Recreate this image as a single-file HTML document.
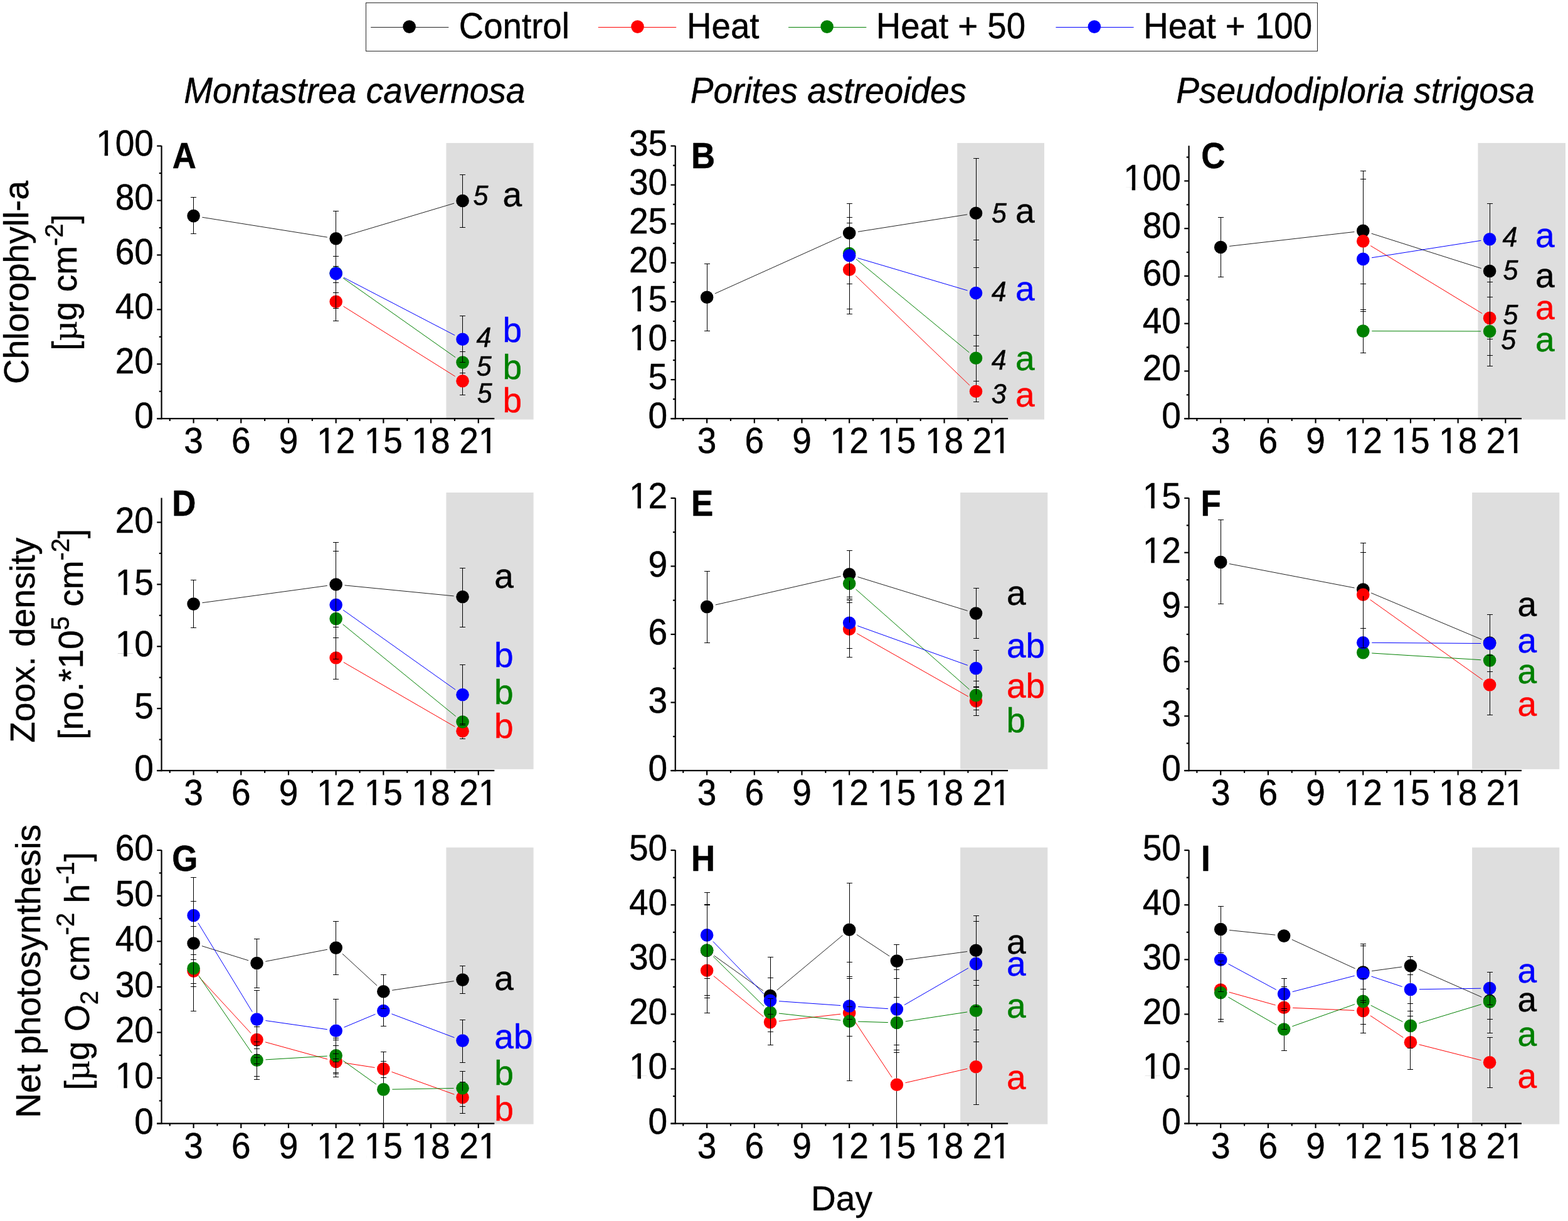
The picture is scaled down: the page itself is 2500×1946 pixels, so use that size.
<!DOCTYPE html>
<html lang="en"><head><meta charset="utf-8"><title>Coral physiology under heat and nutrient treatments</title>
<style>html,body{margin:0;padding:0;background:#fff;}body{width:2500px;height:1946px;overflow:hidden;}svg{display:block;font-family:"Liberation Sans", Arial, Helvetica, sans-serif;}text{white-space:pre;stroke-width:0.45px;stroke-linejoin:round;}</style>
</head><body>
<svg width="2500" height="1946" viewBox="0 0 2500 1946">
<rect x="0" y="0" width="2500" height="1946" fill="#fff"/>
<g id="shading">
<rect x="711.4" y="227.9" width="139.2" height="440.7" fill="#dedede"/>
<rect x="1526.2" y="227.9" width="138.8" height="440.7" fill="#dedede"/>
<rect x="2356.4" y="227.9" width="139.6" height="440.7" fill="#dedede"/>
<rect x="711.4" y="785" width="139.2" height="440.9" fill="#dedede"/>
<rect x="1531.1" y="785" width="139.2" height="440.9" fill="#dedede"/>
<rect x="2347.1" y="785" width="139.2" height="440.9" fill="#dedede"/>
<rect x="711.4" y="1350.7" width="139.2" height="441" fill="#dedede"/>
<rect x="1531.1" y="1350.7" width="139.2" height="441" fill="#dedede"/>
<rect x="2347.1" y="1350.7" width="139.2" height="441" fill="#dedede"/>
</g>
<g id="legend">
<rect x="583.5" y="4.5" width="1517" height="77" fill="#fff" stroke="#2b2b2b" stroke-width="1"/>
<line x1="591.2" y1="43.5" x2="715.3" y2="43.5" stroke="#222222" stroke-width="1"/>
<circle cx="652.6" cy="42.6" r="10.3" fill="#000000"/>
<text transform="translate(731.8 61.2) scale(0.993 1.034)" font-size="55" stroke="#000">Control</text>
<line x1="953.8" y1="43.5" x2="1078.2" y2="43.5" stroke="#ff0000" stroke-width="1"/>
<circle cx="1016.5" cy="42.6" r="10.3" fill="#ff0000"/>
<text transform="translate(1095.1 61.2) scale(0.993 1.034)" font-size="55" stroke="#000">Heat</text>
<line x1="1257.1" y1="43.5" x2="1381.3" y2="43.5" stroke="#008000" stroke-width="1"/>
<circle cx="1318.6" cy="42.6" r="10.3" fill="#008000"/>
<text transform="translate(1396.7 61.2) scale(0.993 1.034)" font-size="55" stroke="#000">Heat + 50</text>
<line x1="1683.4" y1="43.5" x2="1807.5" y2="43.5" stroke="#0000ff" stroke-width="1"/>
<circle cx="1744.8" cy="42.6" r="10.3" fill="#0000ff"/>
<text transform="translate(1823.3 61.2) scale(0.993 1.034)" font-size="55" stroke="#000">Heat + 100</text>
</g>
<g id="titles">
<text transform="translate(293.3 164.2) scale(1.0 1.03)" font-size="55" font-style="italic" stroke="#000">Montastrea cavernosa</text>
<text transform="translate(1100.8 164.2) scale(1.0 1.03)" font-size="55" font-style="italic" stroke="#000">Porites astreoides</text>
<text transform="translate(1875.2 164.2) scale(1.0 1.03)" font-size="55" font-style="italic" stroke="#000">Pseudodiploria strigosa</text>
</g>
<g id="ylabels">
<text transform="translate(44.9 450) rotate(-90) scale(1 1)" font-size="55" text-anchor="middle" stroke="#000">Chlorophyll-a</text>
<text transform="translate(122.3 450) rotate(-90) scale(1 1)" font-size="55" text-anchor="middle" stroke="#000"><tspan dy="0">[</tspan><tspan dy="0" font-family="'Liberation Serif',serif" font-size="56.1">µ</tspan><tspan dy="0">g cm</tspan><tspan dy="-22.5" font-size="40">-2</tspan><tspan dy="22.5">]</tspan></text>
<text transform="translate(55.3 1020.2) rotate(-90) scale(1 1)" font-size="55" text-anchor="middle" stroke="#000">Zoox. density</text>
<text transform="translate(132.4 1010.7) rotate(-90) scale(1 1)" font-size="55" text-anchor="middle" stroke="#000"><tspan dy="0">[no.*10</tspan><tspan dy="-22.5" font-size="40">5</tspan><tspan dy="22.5"> cm</tspan><tspan dy="-22.5" font-size="40">-2</tspan><tspan dy="22.5">]</tspan></text>
<text transform="translate(64.3 1547.8) rotate(-90) scale(1 1)" font-size="55" text-anchor="middle" stroke="#000">Net photosynthesis</text>
<text transform="translate(142 1547.8) rotate(-90) scale(1 1)" font-size="55" text-anchor="middle" stroke="#000"><tspan dy="0">[</tspan><tspan dy="0" font-family="'Liberation Serif',serif" font-size="56.1">µ</tspan><tspan dy="0">g O</tspan><tspan dy="13.5" font-size="40">2</tspan><tspan dy="-13.5"> cm</tspan><tspan dy="-24" font-size="40">-2</tspan><tspan dy="24"> h</tspan><tspan dy="-24" font-size="40">-1</tspan><tspan dy="24">]</tspan></text>
</g>
<text transform="translate(1342 1929) scale(1.0 1.01)" font-size="55" text-anchor="middle" stroke="#000">Day</text>
<g id="panel-A">
<line x1="322.43" y1="346.3" x2="521.84" y2="378.1" stroke="#222222" stroke-width="1"/>
<line x1="549.08" y1="376.29" x2="724.1" y2="324.01" stroke="#222222" stroke-width="1"/>
<line x1="308.5" y1="314.8" x2="308.5" y2="344.1" stroke="#000000" stroke-width="1"/>
<line x1="304" y1="314.5" x2="313" y2="314.5" stroke="#000000" stroke-width="1"/>
<line x1="308.5" y1="344.1" x2="308.5" y2="372.7" stroke="#000000" stroke-width="1"/>
<line x1="304" y1="372.5" x2="313" y2="372.5" stroke="#000000" stroke-width="1"/>
<line x1="535.5" y1="336" x2="535.5" y2="380.3" stroke="#000000" stroke-width="1"/>
<line x1="531" y1="336.5" x2="540" y2="336.5" stroke="#000000" stroke-width="1"/>
<line x1="535.5" y1="380.3" x2="535.5" y2="424.6" stroke="#000000" stroke-width="1"/>
<line x1="531" y1="424.5" x2="540" y2="424.5" stroke="#000000" stroke-width="1"/>
<line x1="737.5" y1="278.1" x2="737.5" y2="320" stroke="#000000" stroke-width="1"/>
<line x1="733" y1="278.5" x2="742" y2="278.5" stroke="#000000" stroke-width="1"/>
<line x1="737.5" y1="320" x2="737.5" y2="362" stroke="#000000" stroke-width="1"/>
<line x1="733" y1="362.5" x2="742" y2="362.5" stroke="#000000" stroke-width="1"/>
<circle cx="308.6" cy="344.1" r="10.3" fill="#000000"/>
<circle cx="535.67" cy="380.3" r="10.3" fill="#000000"/>
<circle cx="737.51" cy="320" r="10.3" fill="#000000"/>
<line x1="547.53" y1="488.23" x2="725.65" y2="599.87" stroke="#ff0000" stroke-width="1"/>
<line x1="535.5" y1="450.9" x2="535.5" y2="480.8" stroke="#000000" stroke-width="1"/>
<line x1="531" y1="450.5" x2="540" y2="450.5" stroke="#000000" stroke-width="1"/>
<line x1="535.5" y1="480.8" x2="535.5" y2="511.2" stroke="#000000" stroke-width="1"/>
<line x1="531" y1="511.5" x2="540" y2="511.5" stroke="#000000" stroke-width="1"/>
<line x1="737.5" y1="585.3" x2="737.5" y2="607.3" stroke="#000000" stroke-width="1"/>
<line x1="733" y1="585.5" x2="742" y2="585.5" stroke="#000000" stroke-width="1"/>
<line x1="737.5" y1="607.3" x2="737.5" y2="629.3" stroke="#000000" stroke-width="1"/>
<line x1="733" y1="629.5" x2="742" y2="629.5" stroke="#000000" stroke-width="1"/>
<circle cx="535.67" cy="480.8" r="10.3" fill="#ff0000"/>
<circle cx="737.51" cy="607.3" r="10.3" fill="#ff0000"/>
<line x1="547.11" y1="443.27" x2="726.07" y2="569.53" stroke="#008000" stroke-width="1"/>
<line x1="535.5" y1="378.9" x2="535.5" y2="435.2" stroke="#000000" stroke-width="1"/>
<line x1="531" y1="378.5" x2="540" y2="378.5" stroke="#000000" stroke-width="1"/>
<line x1="535.5" y1="435.2" x2="535.5" y2="491.5" stroke="#000000" stroke-width="1"/>
<line x1="531" y1="491.5" x2="540" y2="491.5" stroke="#000000" stroke-width="1"/>
<line x1="737.5" y1="560.8" x2="737.5" y2="577.6" stroke="#000000" stroke-width="1"/>
<line x1="733" y1="560.5" x2="742" y2="560.5" stroke="#000000" stroke-width="1"/>
<line x1="737.5" y1="577.6" x2="737.5" y2="594.4" stroke="#000000" stroke-width="1"/>
<line x1="733" y1="594.5" x2="742" y2="594.5" stroke="#000000" stroke-width="1"/>
<circle cx="535.67" cy="435.2" r="10.3" fill="#008000"/>
<circle cx="737.51" cy="577.6" r="10.3" fill="#008000"/>
<line x1="548.09" y1="442.36" x2="725.09" y2="534.34" stroke="#0000ff" stroke-width="1"/>
<line x1="535.5" y1="408" x2="535.5" y2="435.9" stroke="#000000" stroke-width="1"/>
<line x1="531" y1="408.5" x2="540" y2="408.5" stroke="#000000" stroke-width="1"/>
<line x1="535.5" y1="435.9" x2="535.5" y2="466" stroke="#000000" stroke-width="1"/>
<line x1="531" y1="466.5" x2="540" y2="466.5" stroke="#000000" stroke-width="1"/>
<line x1="737.5" y1="503.8" x2="737.5" y2="540.8" stroke="#000000" stroke-width="1"/>
<line x1="733" y1="503.5" x2="742" y2="503.5" stroke="#000000" stroke-width="1"/>
<line x1="737.5" y1="540.8" x2="737.5" y2="577.8" stroke="#000000" stroke-width="1"/>
<line x1="733" y1="577.5" x2="742" y2="577.5" stroke="#000000" stroke-width="1"/>
<circle cx="535.67" cy="435.9" r="10.3" fill="#0000ff"/>
<circle cx="737.51" cy="540.8" r="10.3" fill="#0000ff"/>
<line x1="257.54" y1="232.3" x2="257.54" y2="668.3" stroke="#000" stroke-width="2.2"/>
<line x1="250.24" y1="667.2" x2="788.3" y2="667.2" stroke="#000" stroke-width="2.2"/>
<line x1="250.24" y1="667.2" x2="257.54" y2="667.2" stroke="#000" stroke-width="2.2"/>
<text transform="translate(244.94 682.1) scale(1.0 1.04)" font-size="55" text-anchor="end" stroke="#000">0</text>
<line x1="253.74" y1="623.74" x2="257.54" y2="623.74" stroke="#000" stroke-width="2.2"/>
<line x1="250.24" y1="580.28" x2="257.54" y2="580.28" stroke="#000" stroke-width="2.2"/>
<text transform="translate(244.94 595.18) scale(1.0 1.04)" font-size="55" text-anchor="end" stroke="#000">20</text>
<line x1="253.74" y1="536.82" x2="257.54" y2="536.82" stroke="#000" stroke-width="2.2"/>
<line x1="250.24" y1="493.36" x2="257.54" y2="493.36" stroke="#000" stroke-width="2.2"/>
<text transform="translate(244.94 508.26) scale(1.0 1.04)" font-size="55" text-anchor="end" stroke="#000">40</text>
<line x1="253.74" y1="449.9" x2="257.54" y2="449.9" stroke="#000" stroke-width="2.2"/>
<line x1="250.24" y1="406.44" x2="257.54" y2="406.44" stroke="#000" stroke-width="2.2"/>
<text transform="translate(244.94 421.34) scale(1.0 1.04)" font-size="55" text-anchor="end" stroke="#000">60</text>
<line x1="253.74" y1="362.98" x2="257.54" y2="362.98" stroke="#000" stroke-width="2.2"/>
<line x1="250.24" y1="319.52" x2="257.54" y2="319.52" stroke="#000" stroke-width="2.2"/>
<text transform="translate(244.94 334.42) scale(1.0 1.04)" font-size="55" text-anchor="end" stroke="#000">80</text>
<line x1="253.74" y1="276.06" x2="257.54" y2="276.06" stroke="#000" stroke-width="2.2"/>
<line x1="250.24" y1="232.6" x2="257.54" y2="232.6" stroke="#000" stroke-width="2.2"/>
<text transform="translate(244.94 247.5) scale(1.0 1.04)" font-size="55" text-anchor="end" stroke="#000">100</text>
<rect x="156.47" y="242.28" width="10.2" height="6.72" fill="#fff"/>
<rect x="172.13" y="242.28" width="9.76" height="6.72" fill="#fff"/>
<line x1="308.6" y1="667.2" x2="308.6" y2="674.5" stroke="#000" stroke-width="2.2"/>
<text transform="translate(308.6 722.2) scale(1.0 1.04)" font-size="55" text-anchor="middle" stroke="#000">3</text>
<line x1="384.29" y1="667.2" x2="384.29" y2="674.5" stroke="#000" stroke-width="2.2"/>
<text transform="translate(384.29 722.2) scale(1.0 1.04)" font-size="55" text-anchor="middle" stroke="#000">6</text>
<line x1="459.98" y1="667.2" x2="459.98" y2="674.5" stroke="#000" stroke-width="2.2"/>
<text transform="translate(459.98 722.2) scale(1.0 1.04)" font-size="55" text-anchor="middle" stroke="#000">9</text>
<line x1="535.67" y1="667.2" x2="535.67" y2="674.5" stroke="#000" stroke-width="2.2"/>
<text transform="translate(535.67 722.2) scale(1.0 1.04)" font-size="55" text-anchor="middle" stroke="#000">12</text>
<rect x="508.38" y="716.98" width="10.2" height="6.72" fill="#fff"/>
<rect x="524.03" y="716.98" width="9.76" height="6.72" fill="#fff"/>
<line x1="611.36" y1="667.2" x2="611.36" y2="674.5" stroke="#000" stroke-width="2.2"/>
<text transform="translate(611.36 722.2) scale(1.0 1.04)" font-size="55" text-anchor="middle" stroke="#000">15</text>
<rect x="584.07" y="716.98" width="10.2" height="6.72" fill="#fff"/>
<rect x="599.72" y="716.98" width="9.76" height="6.72" fill="#fff"/>
<line x1="687.05" y1="667.2" x2="687.05" y2="674.5" stroke="#000" stroke-width="2.2"/>
<text transform="translate(687.05 722.2) scale(1.0 1.04)" font-size="55" text-anchor="middle" stroke="#000">18</text>
<rect x="659.76" y="716.98" width="10.2" height="6.72" fill="#fff"/>
<rect x="675.41" y="716.98" width="9.76" height="6.72" fill="#fff"/>
<line x1="762.74" y1="667.2" x2="762.74" y2="674.5" stroke="#000" stroke-width="2.2"/>
<text transform="translate(762.74 722.2) scale(1.0 1.04)" font-size="55" text-anchor="middle" stroke="#000">21</text>
<rect x="766.04" y="716.98" width="10.2" height="6.72" fill="#fff"/>
<rect x="781.69" y="716.98" width="9.76" height="6.72" fill="#fff"/>
<line x1="270.75" y1="667.2" x2="270.75" y2="671" stroke="#000" stroke-width="2.2"/>
<line x1="346.45" y1="667.2" x2="346.45" y2="671" stroke="#000" stroke-width="2.2"/>
<line x1="422.13" y1="667.2" x2="422.13" y2="671" stroke="#000" stroke-width="2.2"/>
<line x1="497.83" y1="667.2" x2="497.83" y2="671" stroke="#000" stroke-width="2.2"/>
<line x1="573.52" y1="667.2" x2="573.52" y2="671" stroke="#000" stroke-width="2.2"/>
<line x1="649.21" y1="667.2" x2="649.21" y2="671" stroke="#000" stroke-width="2.2"/>
<line x1="724.89" y1="667.2" x2="724.89" y2="671" stroke="#000" stroke-width="2.2"/>
<text transform="translate(274.8 268.35) scale(0.944 1.03)" font-size="56" font-weight="bold" stroke="#000">A</text>
<text transform="translate(754.5 327.2) scale(1.0 1.03)" font-size="43" font-style="italic" stroke="#000">5</text>
<text x="801.5" y="328.7" font-size="55" stroke="#000">a</text>
<text transform="translate(759.5 553.1) scale(1.0 1.03)" font-size="43" font-style="italic" stroke="#000">4</text>
<text x="801.5" y="545.4" font-size="55" fill="#0000ff" stroke="#0000ff">b</text>
<text transform="translate(759.8 598.5) scale(1.0 1.03)" font-size="43" font-style="italic" stroke="#000">5</text>
<text x="801.5" y="603.6" font-size="55" fill="#008000" stroke="#008000">b</text>
<text transform="translate(760.8 642.1) scale(1.0 1.03)" font-size="43" font-style="italic" stroke="#000">5</text>
<text x="801.5" y="657.1" font-size="55" fill="#ff0000" stroke="#ff0000">b</text>
</g>
<g id="panel-B">
<line x1="1139.87" y1="467.95" x2="1341.4" y2="377.25" stroke="#222222" stroke-width="1"/>
<line x1="1368" y1="369.32" x2="1542.18" y2="341.88" stroke="#222222" stroke-width="1"/>
<line x1="1127.5" y1="420.3" x2="1127.5" y2="473.7" stroke="#000000" stroke-width="1"/>
<line x1="1123" y1="420.5" x2="1132" y2="420.5" stroke="#000000" stroke-width="1"/>
<line x1="1127.5" y1="473.7" x2="1127.5" y2="527.1" stroke="#000000" stroke-width="1"/>
<line x1="1123" y1="527.5" x2="1132" y2="527.5" stroke="#000000" stroke-width="1"/>
<line x1="1354.5" y1="346.4" x2="1354.5" y2="371.5" stroke="#000000" stroke-width="1"/>
<line x1="1350" y1="346.5" x2="1359" y2="346.5" stroke="#000000" stroke-width="1"/>
<line x1="1354.5" y1="371.5" x2="1354.5" y2="396.6" stroke="#000000" stroke-width="1"/>
<line x1="1350" y1="396.5" x2="1359" y2="396.5" stroke="#000000" stroke-width="1"/>
<line x1="1556.5" y1="252.7" x2="1556.5" y2="339.7" stroke="#000000" stroke-width="1"/>
<line x1="1552" y1="252.5" x2="1561" y2="252.5" stroke="#000000" stroke-width="1"/>
<line x1="1556.5" y1="339.7" x2="1556.5" y2="426.1" stroke="#000000" stroke-width="1"/>
<line x1="1552" y1="426.5" x2="1561" y2="426.5" stroke="#000000" stroke-width="1"/>
<circle cx="1127.1" cy="473.7" r="10.3" fill="#000000"/>
<circle cx="1354.17" cy="371.5" r="10.3" fill="#000000"/>
<circle cx="1556.01" cy="339.7" r="10.3" fill="#000000"/>
<line x1="1364.26" y1="439.5" x2="1545.92" y2="614.1" stroke="#ff0000" stroke-width="1"/>
<line x1="1354.5" y1="355.2" x2="1354.5" y2="429.8" stroke="#000000" stroke-width="1"/>
<line x1="1350" y1="355.5" x2="1359" y2="355.5" stroke="#000000" stroke-width="1"/>
<line x1="1354.5" y1="429.8" x2="1354.5" y2="500.7" stroke="#000000" stroke-width="1"/>
<line x1="1350" y1="500.5" x2="1359" y2="500.5" stroke="#000000" stroke-width="1"/>
<line x1="1556.5" y1="607.7" x2="1556.5" y2="623.8" stroke="#000000" stroke-width="1"/>
<line x1="1552" y1="607.5" x2="1561" y2="607.5" stroke="#000000" stroke-width="1"/>
<line x1="1556.5" y1="623.8" x2="1556.5" y2="640.1" stroke="#000000" stroke-width="1"/>
<line x1="1552" y1="640.5" x2="1561" y2="640.5" stroke="#000000" stroke-width="1"/>
<circle cx="1354.17" cy="429.8" r="10.3" fill="#ff0000"/>
<circle cx="1556.01" cy="623.8" r="10.3" fill="#ff0000"/>
<line x1="1364.96" y1="412.92" x2="1545.22" y2="561.78" stroke="#008000" stroke-width="1"/>
<line x1="1354.5" y1="355.2" x2="1354.5" y2="404" stroke="#000000" stroke-width="1"/>
<line x1="1350" y1="355.5" x2="1359" y2="355.5" stroke="#000000" stroke-width="1"/>
<line x1="1354.5" y1="404" x2="1354.5" y2="452.1" stroke="#000000" stroke-width="1"/>
<line x1="1350" y1="452.5" x2="1359" y2="452.5" stroke="#000000" stroke-width="1"/>
<line x1="1556.5" y1="534.4" x2="1556.5" y2="570.7" stroke="#000000" stroke-width="1"/>
<line x1="1552" y1="534.5" x2="1561" y2="534.5" stroke="#000000" stroke-width="1"/>
<line x1="1556.5" y1="570.7" x2="1556.5" y2="607.7" stroke="#000000" stroke-width="1"/>
<line x1="1552" y1="607.5" x2="1561" y2="607.5" stroke="#000000" stroke-width="1"/>
<circle cx="1354.17" cy="404" r="10.3" fill="#008000"/>
<circle cx="1556.01" cy="570.7" r="10.3" fill="#008000"/>
<line x1="1367.6" y1="411.27" x2="1542.58" y2="463.03" stroke="#0000ff" stroke-width="1"/>
<line x1="1354.5" y1="324.5" x2="1354.5" y2="407.3" stroke="#000000" stroke-width="1"/>
<line x1="1350" y1="324.5" x2="1359" y2="324.5" stroke="#000000" stroke-width="1"/>
<line x1="1354.5" y1="407.3" x2="1354.5" y2="492.6" stroke="#000000" stroke-width="1"/>
<line x1="1350" y1="492.5" x2="1359" y2="492.5" stroke="#000000" stroke-width="1"/>
<line x1="1556.5" y1="382.5" x2="1556.5" y2="467" stroke="#000000" stroke-width="1"/>
<line x1="1552" y1="382.5" x2="1561" y2="382.5" stroke="#000000" stroke-width="1"/>
<line x1="1556.5" y1="467" x2="1556.5" y2="551.2" stroke="#000000" stroke-width="1"/>
<line x1="1552" y1="551.5" x2="1561" y2="551.5" stroke="#000000" stroke-width="1"/>
<circle cx="1354.17" cy="407.3" r="10.3" fill="#0000ff"/>
<circle cx="1556.01" cy="467" r="10.3" fill="#0000ff"/>
<line x1="1076.74" y1="232.3" x2="1076.74" y2="668.3" stroke="#000" stroke-width="2.2"/>
<line x1="1069.44" y1="667.2" x2="1607.1" y2="667.2" stroke="#000" stroke-width="2.2"/>
<line x1="1069.44" y1="667.2" x2="1076.74" y2="667.2" stroke="#000" stroke-width="2.2"/>
<text transform="translate(1064.14 682.1) scale(1.0 1.04)" font-size="55" text-anchor="end" stroke="#000">0</text>
<line x1="1072.94" y1="636.16" x2="1076.74" y2="636.16" stroke="#000" stroke-width="2.2"/>
<line x1="1069.44" y1="605.11" x2="1076.74" y2="605.11" stroke="#000" stroke-width="2.2"/>
<text transform="translate(1064.14 620.01) scale(1.0 1.04)" font-size="55" text-anchor="end" stroke="#000">5</text>
<line x1="1072.94" y1="574.07" x2="1076.74" y2="574.07" stroke="#000" stroke-width="2.2"/>
<line x1="1069.44" y1="543.03" x2="1076.74" y2="543.03" stroke="#000" stroke-width="2.2"/>
<text transform="translate(1064.14 557.93) scale(1.0 1.04)" font-size="55" text-anchor="end" stroke="#000">10</text>
<rect x="1006.26" y="552.71" width="10.2" height="6.72" fill="#fff"/>
<rect x="1021.92" y="552.71" width="9.76" height="6.72" fill="#fff"/>
<line x1="1072.94" y1="511.99" x2="1076.74" y2="511.99" stroke="#000" stroke-width="2.2"/>
<line x1="1069.44" y1="480.94" x2="1076.74" y2="480.94" stroke="#000" stroke-width="2.2"/>
<text transform="translate(1064.14 495.84) scale(1.0 1.04)" font-size="55" text-anchor="end" stroke="#000">15</text>
<rect x="1006.26" y="490.62" width="10.2" height="6.72" fill="#fff"/>
<rect x="1021.92" y="490.62" width="9.76" height="6.72" fill="#fff"/>
<line x1="1072.94" y1="449.9" x2="1076.74" y2="449.9" stroke="#000" stroke-width="2.2"/>
<line x1="1069.44" y1="418.86" x2="1076.74" y2="418.86" stroke="#000" stroke-width="2.2"/>
<text transform="translate(1064.14 433.76) scale(1.0 1.04)" font-size="55" text-anchor="end" stroke="#000">20</text>
<line x1="1072.94" y1="387.81" x2="1076.74" y2="387.81" stroke="#000" stroke-width="2.2"/>
<line x1="1069.44" y1="356.77" x2="1076.74" y2="356.77" stroke="#000" stroke-width="2.2"/>
<text transform="translate(1064.14 371.67) scale(1.0 1.04)" font-size="55" text-anchor="end" stroke="#000">25</text>
<line x1="1072.94" y1="325.73" x2="1076.74" y2="325.73" stroke="#000" stroke-width="2.2"/>
<line x1="1069.44" y1="294.69" x2="1076.74" y2="294.69" stroke="#000" stroke-width="2.2"/>
<text transform="translate(1064.14 309.59) scale(1.0 1.04)" font-size="55" text-anchor="end" stroke="#000">30</text>
<line x1="1072.94" y1="263.64" x2="1076.74" y2="263.64" stroke="#000" stroke-width="2.2"/>
<line x1="1069.44" y1="232.6" x2="1076.74" y2="232.6" stroke="#000" stroke-width="2.2"/>
<text transform="translate(1064.14 247.5) scale(1.0 1.04)" font-size="55" text-anchor="end" stroke="#000">35</text>
<line x1="1127.1" y1="667.2" x2="1127.1" y2="674.5" stroke="#000" stroke-width="2.2"/>
<text transform="translate(1127.1 722.2) scale(1.0 1.04)" font-size="55" text-anchor="middle" stroke="#000">3</text>
<line x1="1202.79" y1="667.2" x2="1202.79" y2="674.5" stroke="#000" stroke-width="2.2"/>
<text transform="translate(1202.79 722.2) scale(1.0 1.04)" font-size="55" text-anchor="middle" stroke="#000">6</text>
<line x1="1278.48" y1="667.2" x2="1278.48" y2="674.5" stroke="#000" stroke-width="2.2"/>
<text transform="translate(1278.48 722.2) scale(1.0 1.04)" font-size="55" text-anchor="middle" stroke="#000">9</text>
<line x1="1354.17" y1="667.2" x2="1354.17" y2="674.5" stroke="#000" stroke-width="2.2"/>
<text transform="translate(1354.17 722.2) scale(1.0 1.04)" font-size="55" text-anchor="middle" stroke="#000">12</text>
<rect x="1326.88" y="716.98" width="10.2" height="6.72" fill="#fff"/>
<rect x="1342.53" y="716.98" width="9.76" height="6.72" fill="#fff"/>
<line x1="1429.86" y1="667.2" x2="1429.86" y2="674.5" stroke="#000" stroke-width="2.2"/>
<text transform="translate(1429.86 722.2) scale(1.0 1.04)" font-size="55" text-anchor="middle" stroke="#000">15</text>
<rect x="1402.57" y="716.98" width="10.2" height="6.72" fill="#fff"/>
<rect x="1418.22" y="716.98" width="9.76" height="6.72" fill="#fff"/>
<line x1="1505.55" y1="667.2" x2="1505.55" y2="674.5" stroke="#000" stroke-width="2.2"/>
<text transform="translate(1505.55 722.2) scale(1.0 1.04)" font-size="55" text-anchor="middle" stroke="#000">18</text>
<rect x="1478.26" y="716.98" width="10.2" height="6.72" fill="#fff"/>
<rect x="1493.91" y="716.98" width="9.76" height="6.72" fill="#fff"/>
<line x1="1581.24" y1="667.2" x2="1581.24" y2="674.5" stroke="#000" stroke-width="2.2"/>
<text transform="translate(1581.24 722.2) scale(1.0 1.04)" font-size="55" text-anchor="middle" stroke="#000">21</text>
<rect x="1584.54" y="716.98" width="10.2" height="6.72" fill="#fff"/>
<rect x="1600.19" y="716.98" width="9.76" height="6.72" fill="#fff"/>
<line x1="1089.25" y1="667.2" x2="1089.25" y2="671" stroke="#000" stroke-width="2.2"/>
<line x1="1164.94" y1="667.2" x2="1164.94" y2="671" stroke="#000" stroke-width="2.2"/>
<line x1="1240.63" y1="667.2" x2="1240.63" y2="671" stroke="#000" stroke-width="2.2"/>
<line x1="1316.32" y1="667.2" x2="1316.32" y2="671" stroke="#000" stroke-width="2.2"/>
<line x1="1392.01" y1="667.2" x2="1392.01" y2="671" stroke="#000" stroke-width="2.2"/>
<line x1="1467.7" y1="667.2" x2="1467.7" y2="671" stroke="#000" stroke-width="2.2"/>
<line x1="1543.39" y1="667.2" x2="1543.39" y2="671" stroke="#000" stroke-width="2.2"/>
<text transform="translate(1101.9 268.35) scale(0.944 1.03)" font-size="56" font-weight="bold" stroke="#000">B</text>
<text transform="translate(1581 354.7) scale(1.0 1.03)" font-size="43" font-style="italic" stroke="#000">5</text>
<text x="1618.9" y="354.7" font-size="55" stroke="#000">a</text>
<text transform="translate(1580.7 480) scale(1.0 1.03)" font-size="43" font-style="italic" stroke="#000">4</text>
<text x="1618.9" y="479.4" font-size="55" fill="#0000ff" stroke="#0000ff">a</text>
<text transform="translate(1580.7 589) scale(1.0 1.03)" font-size="43" font-style="italic" stroke="#000">4</text>
<text x="1618.9" y="589.7" font-size="55" fill="#008000" stroke="#008000">a</text>
<text transform="translate(1580.7 642.5) scale(1.0 1.03)" font-size="43" font-style="italic" stroke="#000">3</text>
<text x="1618.9" y="647.6" font-size="55" fill="#ff0000" stroke="#ff0000">a</text>
</g>
<g id="panel-C">
<line x1="1960.11" y1="392.4" x2="2159.36" y2="369.5" stroke="#222222" stroke-width="1"/>
<line x1="2186.61" y1="372.14" x2="2361.77" y2="427.76" stroke="#222222" stroke-width="1"/>
<line x1="1946.5" y1="346.6" x2="1946.5" y2="394" stroke="#000000" stroke-width="1"/>
<line x1="1942" y1="346.5" x2="1951" y2="346.5" stroke="#000000" stroke-width="1"/>
<line x1="1946.5" y1="394" x2="1946.5" y2="441.4" stroke="#000000" stroke-width="1"/>
<line x1="1942" y1="441.5" x2="1951" y2="441.5" stroke="#000000" stroke-width="1"/>
<line x1="2173.5" y1="285.3" x2="2173.5" y2="367.9" stroke="#000000" stroke-width="1"/>
<line x1="2169" y1="285.5" x2="2178" y2="285.5" stroke="#000000" stroke-width="1"/>
<line x1="2173.5" y1="367.9" x2="2173.5" y2="452.1" stroke="#000000" stroke-width="1"/>
<line x1="2169" y1="452.5" x2="2178" y2="452.5" stroke="#000000" stroke-width="1"/>
<line x1="2375.5" y1="324.5" x2="2375.5" y2="432" stroke="#000000" stroke-width="1"/>
<line x1="2371" y1="324.5" x2="2380" y2="324.5" stroke="#000000" stroke-width="1"/>
<line x1="2375.5" y1="432" x2="2375.5" y2="540.8" stroke="#000000" stroke-width="1"/>
<line x1="2371" y1="540.5" x2="2380" y2="540.5" stroke="#000000" stroke-width="1"/>
<circle cx="1946.2" cy="394" r="10.3" fill="#000000"/>
<circle cx="2173.27" cy="367.9" r="10.3" fill="#000000"/>
<circle cx="2375.11" cy="432" r="10.3" fill="#000000"/>
<line x1="2185.24" y1="391.66" x2="2363.14" y2="499.64" stroke="#ff0000" stroke-width="1"/>
<line x1="2173.5" y1="272.8" x2="2173.5" y2="384.4" stroke="#000000" stroke-width="1"/>
<line x1="2169" y1="272.5" x2="2178" y2="272.5" stroke="#000000" stroke-width="1"/>
<line x1="2173.5" y1="384.4" x2="2173.5" y2="496.6" stroke="#000000" stroke-width="1"/>
<line x1="2169" y1="496.5" x2="2178" y2="496.5" stroke="#000000" stroke-width="1"/>
<line x1="2375.5" y1="449.6" x2="2375.5" y2="506.9" stroke="#000000" stroke-width="1"/>
<line x1="2371" y1="449.5" x2="2380" y2="449.5" stroke="#000000" stroke-width="1"/>
<line x1="2375.5" y1="506.9" x2="2375.5" y2="566.1" stroke="#000000" stroke-width="1"/>
<line x1="2371" y1="566.5" x2="2380" y2="566.5" stroke="#000000" stroke-width="1"/>
<circle cx="2173.27" cy="384.4" r="10.3" fill="#ff0000"/>
<circle cx="2375.11" cy="506.9" r="10.3" fill="#ff0000"/>
<line x1="2187.27" y1="527.63" x2="2361.11" y2="527.97" stroke="#008000" stroke-width="1"/>
<line x1="2173.5" y1="493.5" x2="2173.5" y2="527.6" stroke="#000000" stroke-width="1"/>
<line x1="2169" y1="493.5" x2="2178" y2="493.5" stroke="#000000" stroke-width="1"/>
<line x1="2173.5" y1="527.6" x2="2173.5" y2="562.8" stroke="#000000" stroke-width="1"/>
<line x1="2169" y1="562.5" x2="2178" y2="562.5" stroke="#000000" stroke-width="1"/>
<line x1="2375.5" y1="473.2" x2="2375.5" y2="528" stroke="#000000" stroke-width="1"/>
<line x1="2371" y1="473.5" x2="2380" y2="473.5" stroke="#000000" stroke-width="1"/>
<line x1="2375.5" y1="528" x2="2375.5" y2="583.8" stroke="#000000" stroke-width="1"/>
<line x1="2371" y1="583.5" x2="2380" y2="583.5" stroke="#000000" stroke-width="1"/>
<circle cx="2173.27" cy="527.6" r="10.3" fill="#008000"/>
<circle cx="2375.11" cy="528" r="10.3" fill="#008000"/>
<line x1="2187.1" y1="410.73" x2="2361.28" y2="383.37" stroke="#0000ff" stroke-width="1"/>
<circle cx="2173.27" cy="412.9" r="10.3" fill="#0000ff"/>
<circle cx="2375.11" cy="381.2" r="10.3" fill="#0000ff"/>
<line x1="1895.54" y1="232.3" x2="1895.54" y2="668.3" stroke="#000" stroke-width="2.2"/>
<line x1="1888.24" y1="667.2" x2="2426" y2="667.2" stroke="#000" stroke-width="2.2"/>
<line x1="1888.24" y1="667.2" x2="1895.54" y2="667.2" stroke="#000" stroke-width="2.2"/>
<text transform="translate(1882.94 682.1) scale(1.0 1.04)" font-size="55" text-anchor="end" stroke="#000">0</text>
<line x1="1891.74" y1="629.32" x2="1895.54" y2="629.32" stroke="#000" stroke-width="2.2"/>
<line x1="1888.24" y1="591.44" x2="1895.54" y2="591.44" stroke="#000" stroke-width="2.2"/>
<text transform="translate(1882.94 606.34) scale(1.0 1.04)" font-size="55" text-anchor="end" stroke="#000">20</text>
<line x1="1891.74" y1="553.56" x2="1895.54" y2="553.56" stroke="#000" stroke-width="2.2"/>
<line x1="1888.24" y1="515.68" x2="1895.54" y2="515.68" stroke="#000" stroke-width="2.2"/>
<text transform="translate(1882.94 530.58) scale(1.0 1.04)" font-size="55" text-anchor="end" stroke="#000">40</text>
<line x1="1891.74" y1="477.8" x2="1895.54" y2="477.8" stroke="#000" stroke-width="2.2"/>
<line x1="1888.24" y1="439.92" x2="1895.54" y2="439.92" stroke="#000" stroke-width="2.2"/>
<text transform="translate(1882.94 454.82) scale(1.0 1.04)" font-size="55" text-anchor="end" stroke="#000">60</text>
<line x1="1891.74" y1="402.04" x2="1895.54" y2="402.04" stroke="#000" stroke-width="2.2"/>
<line x1="1888.24" y1="364.16" x2="1895.54" y2="364.16" stroke="#000" stroke-width="2.2"/>
<text transform="translate(1882.94 379.06) scale(1.0 1.04)" font-size="55" text-anchor="end" stroke="#000">80</text>
<line x1="1891.74" y1="326.28" x2="1895.54" y2="326.28" stroke="#000" stroke-width="2.2"/>
<line x1="1888.24" y1="288.4" x2="1895.54" y2="288.4" stroke="#000" stroke-width="2.2"/>
<text transform="translate(1882.94 303.3) scale(1.0 1.04)" font-size="55" text-anchor="end" stroke="#000">100</text>
<rect x="1794.47" y="298.08" width="10.2" height="6.72" fill="#fff"/>
<rect x="1810.13" y="298.08" width="9.76" height="6.72" fill="#fff"/>
<line x1="1891.74" y1="250.52" x2="1895.54" y2="250.52" stroke="#000" stroke-width="2.2"/>
<line x1="1946.2" y1="667.2" x2="1946.2" y2="674.5" stroke="#000" stroke-width="2.2"/>
<text transform="translate(1946.2 722.2) scale(1.0 1.04)" font-size="55" text-anchor="middle" stroke="#000">3</text>
<line x1="2021.89" y1="667.2" x2="2021.89" y2="674.5" stroke="#000" stroke-width="2.2"/>
<text transform="translate(2021.89 722.2) scale(1.0 1.04)" font-size="55" text-anchor="middle" stroke="#000">6</text>
<line x1="2097.58" y1="667.2" x2="2097.58" y2="674.5" stroke="#000" stroke-width="2.2"/>
<text transform="translate(2097.58 722.2) scale(1.0 1.04)" font-size="55" text-anchor="middle" stroke="#000">9</text>
<line x1="2173.27" y1="667.2" x2="2173.27" y2="674.5" stroke="#000" stroke-width="2.2"/>
<text transform="translate(2173.27 722.2) scale(1.0 1.04)" font-size="55" text-anchor="middle" stroke="#000">12</text>
<rect x="2145.98" y="716.98" width="10.2" height="6.72" fill="#fff"/>
<rect x="2161.63" y="716.98" width="9.76" height="6.72" fill="#fff"/>
<line x1="2248.96" y1="667.2" x2="2248.96" y2="674.5" stroke="#000" stroke-width="2.2"/>
<text transform="translate(2248.96 722.2) scale(1.0 1.04)" font-size="55" text-anchor="middle" stroke="#000">15</text>
<rect x="2221.67" y="716.98" width="10.2" height="6.72" fill="#fff"/>
<rect x="2237.32" y="716.98" width="9.76" height="6.72" fill="#fff"/>
<line x1="2324.65" y1="667.2" x2="2324.65" y2="674.5" stroke="#000" stroke-width="2.2"/>
<text transform="translate(2324.65 722.2) scale(1.0 1.04)" font-size="55" text-anchor="middle" stroke="#000">18</text>
<rect x="2297.36" y="716.98" width="10.2" height="6.72" fill="#fff"/>
<rect x="2313.01" y="716.98" width="9.76" height="6.72" fill="#fff"/>
<line x1="2400.34" y1="667.2" x2="2400.34" y2="674.5" stroke="#000" stroke-width="2.2"/>
<text transform="translate(2400.34 722.2) scale(1.0 1.04)" font-size="55" text-anchor="middle" stroke="#000">21</text>
<rect x="2403.64" y="716.98" width="10.2" height="6.72" fill="#fff"/>
<rect x="2419.29" y="716.98" width="9.76" height="6.72" fill="#fff"/>
<line x1="1908.36" y1="667.2" x2="1908.36" y2="671" stroke="#000" stroke-width="2.2"/>
<line x1="1984.05" y1="667.2" x2="1984.05" y2="671" stroke="#000" stroke-width="2.2"/>
<line x1="2059.74" y1="667.2" x2="2059.74" y2="671" stroke="#000" stroke-width="2.2"/>
<line x1="2135.43" y1="667.2" x2="2135.43" y2="671" stroke="#000" stroke-width="2.2"/>
<line x1="2211.12" y1="667.2" x2="2211.12" y2="671" stroke="#000" stroke-width="2.2"/>
<line x1="2286.81" y1="667.2" x2="2286.81" y2="671" stroke="#000" stroke-width="2.2"/>
<line x1="2362.49" y1="667.2" x2="2362.49" y2="671" stroke="#000" stroke-width="2.2"/>
<text transform="translate(1915.2 268.35) scale(0.944 1.03)" font-size="56" font-weight="bold" stroke="#000">C</text>
<text transform="translate(2395.6 393.2) scale(1.0 1.03)" font-size="43" font-style="italic" stroke="#000">4</text>
<text x="2448" y="394.1" font-size="55" fill="#0000ff" stroke="#0000ff">a</text>
<text transform="translate(2396.5 446.3) scale(1.0 1.03)" font-size="43" font-style="italic" stroke="#000">5</text>
<text x="2448" y="458.2" font-size="55" stroke="#000">a</text>
<text transform="translate(2396.5 517) scale(1.0 1.03)" font-size="43" font-style="italic" stroke="#000">5</text>
<text x="2448" y="509.3" font-size="55" fill="#ff0000" stroke="#ff0000">a</text>
<text transform="translate(2393.2 556.9) scale(1.0 1.03)" font-size="43" font-style="italic" stroke="#000">5</text>
<text x="2448" y="560.4" font-size="55" fill="#008000" stroke="#008000">a</text>
</g>
<g id="panel-D">
<line x1="322.47" y1="960.7" x2="521.8" y2="933.4" stroke="#222222" stroke-width="1"/>
<line x1="549.6" y1="932.87" x2="723.58" y2="949.93" stroke="#222222" stroke-width="1"/>
<circle cx="308.6" cy="962.6" r="10.3" fill="#000000"/>
<circle cx="535.67" cy="931.5" r="10.3" fill="#000000"/>
<circle cx="737.51" cy="951.3" r="10.3" fill="#000000"/>
<line x1="547.79" y1="1055.51" x2="725.39" y2="1158.29" stroke="#ff0000" stroke-width="1"/>
<circle cx="535.67" cy="1048.5" r="10.3" fill="#ff0000"/>
<circle cx="737.51" cy="1165.3" r="10.3" fill="#ff0000"/>
<line x1="546.52" y1="994.94" x2="726.66" y2="1141.66" stroke="#008000" stroke-width="1"/>
<circle cx="535.67" cy="986.1" r="10.3" fill="#008000"/>
<circle cx="737.51" cy="1150.5" r="10.3" fill="#008000"/>
<line x1="547.09" y1="972.2" x2="726.09" y2="1099.2" stroke="#0000ff" stroke-width="1"/>
<circle cx="535.67" cy="964.1" r="10.3" fill="#0000ff"/>
<circle cx="737.51" cy="1107.3" r="10.3" fill="#0000ff"/>
<line x1="308.5" y1="924.5" x2="308.5" y2="952.3" stroke="#000000" stroke-width="1"/>
<line x1="304" y1="924.5" x2="313" y2="924.5" stroke="#000000" stroke-width="1"/>
<line x1="308.5" y1="972.9" x2="308.5" y2="1000.6" stroke="#000000" stroke-width="1"/>
<line x1="304" y1="1000.5" x2="313" y2="1000.5" stroke="#000000" stroke-width="1"/>
<line x1="535.5" y1="864.9" x2="535.5" y2="921.2" stroke="#000000" stroke-width="1"/>
<line x1="531" y1="864.5" x2="540" y2="864.5" stroke="#000000" stroke-width="1"/>
<line x1="535.5" y1="941.8" x2="535.5" y2="999.9" stroke="#000000" stroke-width="1"/>
<line x1="531" y1="999.5" x2="540" y2="999.5" stroke="#000000" stroke-width="1"/>
<line x1="737.5" y1="905" x2="737.5" y2="941" stroke="#000000" stroke-width="1"/>
<line x1="733" y1="905.5" x2="742" y2="905.5" stroke="#000000" stroke-width="1"/>
<line x1="737.5" y1="961.6" x2="737.5" y2="999.4" stroke="#000000" stroke-width="1"/>
<line x1="733" y1="999.5" x2="742" y2="999.5" stroke="#000000" stroke-width="1"/>
<line x1="535.5" y1="1016.9" x2="535.5" y2="1038.2" stroke="#000000" stroke-width="1"/>
<line x1="531" y1="1016.5" x2="540" y2="1016.5" stroke="#000000" stroke-width="1"/>
<line x1="535.5" y1="1058.8" x2="535.5" y2="1082.1" stroke="#000000" stroke-width="1"/>
<line x1="531" y1="1082.5" x2="540" y2="1082.5" stroke="#000000" stroke-width="1"/>
<line x1="737.5" y1="1153.6" x2="737.5" y2="1155" stroke="#000000" stroke-width="1"/>
<line x1="733" y1="1153.5" x2="742" y2="1153.5" stroke="#000000" stroke-width="1"/>
<line x1="737.5" y1="1175.6" x2="737.5" y2="1177" stroke="#000000" stroke-width="1"/>
<line x1="733" y1="1177.5" x2="742" y2="1177.5" stroke="#000000" stroke-width="1"/>
<line x1="535.5" y1="878.6" x2="535.5" y2="953.8" stroke="#000000" stroke-width="1"/>
<line x1="531" y1="878.5" x2="540" y2="878.5" stroke="#000000" stroke-width="1"/>
<line x1="535.5" y1="974.4" x2="535.5" y2="1050.3" stroke="#000000" stroke-width="1"/>
<line x1="531" y1="1050.5" x2="540" y2="1050.5" stroke="#000000" stroke-width="1"/>
<line x1="737.5" y1="1059" x2="737.5" y2="1097" stroke="#000000" stroke-width="1"/>
<line x1="733" y1="1059.5" x2="742" y2="1059.5" stroke="#000000" stroke-width="1"/>
<line x1="737.5" y1="1117.6" x2="737.5" y2="1155.8" stroke="#000000" stroke-width="1"/>
<line x1="733" y1="1155.5" x2="742" y2="1155.5" stroke="#000000" stroke-width="1"/>
<line x1="257.54" y1="793.6" x2="257.54" y2="1229.2" stroke="#000" stroke-width="2.2"/>
<line x1="250.24" y1="1228.1" x2="788.3" y2="1228.1" stroke="#000" stroke-width="2.2"/>
<line x1="250.24" y1="1228.1" x2="257.54" y2="1228.1" stroke="#000" stroke-width="2.2"/>
<text transform="translate(244.94 1244.3) scale(1.0 1.04)" font-size="55" text-anchor="end" stroke="#000">0</text>
<line x1="253.74" y1="1178.65" x2="257.54" y2="1178.65" stroke="#000" stroke-width="2.2"/>
<line x1="250.24" y1="1129.19" x2="257.54" y2="1129.19" stroke="#000" stroke-width="2.2"/>
<text transform="translate(244.94 1145.39) scale(1.0 1.04)" font-size="55" text-anchor="end" stroke="#000">5</text>
<line x1="253.74" y1="1079.74" x2="257.54" y2="1079.74" stroke="#000" stroke-width="2.2"/>
<line x1="250.24" y1="1030.29" x2="257.54" y2="1030.29" stroke="#000" stroke-width="2.2"/>
<text transform="translate(244.94 1046.49) scale(1.0 1.04)" font-size="55" text-anchor="end" stroke="#000">10</text>
<rect x="187.06" y="1041.27" width="10.2" height="6.72" fill="#fff"/>
<rect x="202.72" y="1041.27" width="9.76" height="6.72" fill="#fff"/>
<line x1="253.74" y1="980.83" x2="257.54" y2="980.83" stroke="#000" stroke-width="2.2"/>
<line x1="250.24" y1="931.38" x2="257.54" y2="931.38" stroke="#000" stroke-width="2.2"/>
<text transform="translate(244.94 947.58) scale(1.0 1.04)" font-size="55" text-anchor="end" stroke="#000">15</text>
<rect x="187.06" y="942.36" width="10.2" height="6.72" fill="#fff"/>
<rect x="202.72" y="942.36" width="9.76" height="6.72" fill="#fff"/>
<line x1="253.74" y1="881.93" x2="257.54" y2="881.93" stroke="#000" stroke-width="2.2"/>
<line x1="250.24" y1="832.47" x2="257.54" y2="832.47" stroke="#000" stroke-width="2.2"/>
<text transform="translate(244.94 848.67) scale(1.0 1.04)" font-size="55" text-anchor="end" stroke="#000">20</text>
<line x1="308.6" y1="1228.1" x2="308.6" y2="1235.4" stroke="#000" stroke-width="2.2"/>
<text transform="translate(308.6 1283.1) scale(1.0 1.04)" font-size="55" text-anchor="middle" stroke="#000">3</text>
<line x1="384.29" y1="1228.1" x2="384.29" y2="1235.4" stroke="#000" stroke-width="2.2"/>
<text transform="translate(384.29 1283.1) scale(1.0 1.04)" font-size="55" text-anchor="middle" stroke="#000">6</text>
<line x1="459.98" y1="1228.1" x2="459.98" y2="1235.4" stroke="#000" stroke-width="2.2"/>
<text transform="translate(459.98 1283.1) scale(1.0 1.04)" font-size="55" text-anchor="middle" stroke="#000">9</text>
<line x1="535.67" y1="1228.1" x2="535.67" y2="1235.4" stroke="#000" stroke-width="2.2"/>
<text transform="translate(535.67 1283.1) scale(1.0 1.04)" font-size="55" text-anchor="middle" stroke="#000">12</text>
<rect x="508.38" y="1277.88" width="10.2" height="6.72" fill="#fff"/>
<rect x="524.03" y="1277.88" width="9.76" height="6.72" fill="#fff"/>
<line x1="611.36" y1="1228.1" x2="611.36" y2="1235.4" stroke="#000" stroke-width="2.2"/>
<text transform="translate(611.36 1283.1) scale(1.0 1.04)" font-size="55" text-anchor="middle" stroke="#000">15</text>
<rect x="584.07" y="1277.88" width="10.2" height="6.72" fill="#fff"/>
<rect x="599.72" y="1277.88" width="9.76" height="6.72" fill="#fff"/>
<line x1="687.05" y1="1228.1" x2="687.05" y2="1235.4" stroke="#000" stroke-width="2.2"/>
<text transform="translate(687.05 1283.1) scale(1.0 1.04)" font-size="55" text-anchor="middle" stroke="#000">18</text>
<rect x="659.76" y="1277.88" width="10.2" height="6.72" fill="#fff"/>
<rect x="675.41" y="1277.88" width="9.76" height="6.72" fill="#fff"/>
<line x1="762.74" y1="1228.1" x2="762.74" y2="1235.4" stroke="#000" stroke-width="2.2"/>
<text transform="translate(762.74 1283.1) scale(1.0 1.04)" font-size="55" text-anchor="middle" stroke="#000">21</text>
<rect x="766.04" y="1277.88" width="10.2" height="6.72" fill="#fff"/>
<rect x="781.69" y="1277.88" width="9.76" height="6.72" fill="#fff"/>
<line x1="270.75" y1="1228.1" x2="270.75" y2="1231.9" stroke="#000" stroke-width="2.2"/>
<line x1="346.45" y1="1228.1" x2="346.45" y2="1231.9" stroke="#000" stroke-width="2.2"/>
<line x1="422.13" y1="1228.1" x2="422.13" y2="1231.9" stroke="#000" stroke-width="2.2"/>
<line x1="497.83" y1="1228.1" x2="497.83" y2="1231.9" stroke="#000" stroke-width="2.2"/>
<line x1="573.52" y1="1228.1" x2="573.52" y2="1231.9" stroke="#000" stroke-width="2.2"/>
<line x1="649.21" y1="1228.1" x2="649.21" y2="1231.9" stroke="#000" stroke-width="2.2"/>
<line x1="724.89" y1="1228.1" x2="724.89" y2="1231.9" stroke="#000" stroke-width="2.2"/>
<text transform="translate(274.3 822.3) scale(0.944 1.03)" font-size="56" font-weight="bold" stroke="#000">D</text>
<text x="788.2" y="937" font-size="55" stroke="#000">a</text>
<text x="788" y="1063.2" font-size="55" fill="#0000ff" stroke="#0000ff">b</text>
<text x="788" y="1122.2" font-size="55" fill="#008000" stroke="#008000">b</text>
<text x="788" y="1175.5" font-size="55" fill="#ff0000" stroke="#ff0000">b</text>
</g>
<g id="panel-E">
<line x1="1140.75" y1="963.99" x2="1340.52" y2="918.41" stroke="#222222" stroke-width="1"/>
<line x1="1367.55" y1="919.43" x2="1542.63" y2="973.47" stroke="#222222" stroke-width="1"/>
<circle cx="1127.1" cy="967.1" r="10.3" fill="#000000"/>
<circle cx="1354.17" cy="915.3" r="10.3" fill="#000000"/>
<circle cx="1556.01" cy="977.6" r="10.3" fill="#000000"/>
<line x1="1366.35" y1="1009.6" x2="1543.83" y2="1110.2" stroke="#ff0000" stroke-width="1"/>
<circle cx="1354.17" cy="1002.7" r="10.3" fill="#ff0000"/>
<circle cx="1556.01" cy="1117.1" r="10.3" fill="#ff0000"/>
<line x1="1364.67" y1="939.26" x2="1545.51" y2="1098.84" stroke="#008000" stroke-width="1"/>
<circle cx="1354.17" cy="930" r="10.3" fill="#008000"/>
<circle cx="1556.01" cy="1108.1" r="10.3" fill="#008000"/>
<line x1="1367.35" y1="997.43" x2="1542.83" y2="1060.37" stroke="#0000ff" stroke-width="1"/>
<circle cx="1354.17" cy="992.7" r="10.3" fill="#0000ff"/>
<circle cx="1556.01" cy="1065.1" r="10.3" fill="#0000ff"/>
<line x1="1127.5" y1="910.2" x2="1127.5" y2="956.8" stroke="#000000" stroke-width="1"/>
<line x1="1123" y1="910.5" x2="1132" y2="910.5" stroke="#000000" stroke-width="1"/>
<line x1="1127.5" y1="977.4" x2="1127.5" y2="1024.1" stroke="#000000" stroke-width="1"/>
<line x1="1123" y1="1024.5" x2="1132" y2="1024.5" stroke="#000000" stroke-width="1"/>
<line x1="1354.5" y1="877.4" x2="1354.5" y2="905" stroke="#000000" stroke-width="1"/>
<line x1="1350" y1="877.5" x2="1359" y2="877.5" stroke="#000000" stroke-width="1"/>
<line x1="1354.5" y1="925.6" x2="1354.5" y2="954.1" stroke="#000000" stroke-width="1"/>
<line x1="1350" y1="954.5" x2="1359" y2="954.5" stroke="#000000" stroke-width="1"/>
<line x1="1556.5" y1="937.6" x2="1556.5" y2="967.3" stroke="#000000" stroke-width="1"/>
<line x1="1552" y1="937.5" x2="1561" y2="937.5" stroke="#000000" stroke-width="1"/>
<line x1="1556.5" y1="987.9" x2="1556.5" y2="1017.7" stroke="#000000" stroke-width="1"/>
<line x1="1552" y1="1017.5" x2="1561" y2="1017.5" stroke="#000000" stroke-width="1"/>
<line x1="1354.5" y1="960.8" x2="1354.5" y2="992.4" stroke="#000000" stroke-width="1"/>
<line x1="1350" y1="960.5" x2="1359" y2="960.5" stroke="#000000" stroke-width="1"/>
<line x1="1354.5" y1="1013" x2="1354.5" y2="1047.1" stroke="#000000" stroke-width="1"/>
<line x1="1350" y1="1047.5" x2="1359" y2="1047.5" stroke="#000000" stroke-width="1"/>
<line x1="1556.5" y1="1095.3" x2="1556.5" y2="1106.8" stroke="#000000" stroke-width="1"/>
<line x1="1552" y1="1095.5" x2="1561" y2="1095.5" stroke="#000000" stroke-width="1"/>
<line x1="1556.5" y1="1127.4" x2="1556.5" y2="1140.2" stroke="#000000" stroke-width="1"/>
<line x1="1552" y1="1140.5" x2="1561" y2="1140.5" stroke="#000000" stroke-width="1"/>
<line x1="1354.5" y1="908.8" x2="1354.5" y2="919.7" stroke="#000000" stroke-width="1"/>
<line x1="1350" y1="908.5" x2="1359" y2="908.5" stroke="#000000" stroke-width="1"/>
<line x1="1354.5" y1="940.3" x2="1354.5" y2="951.2" stroke="#000000" stroke-width="1"/>
<line x1="1350" y1="951.5" x2="1359" y2="951.5" stroke="#000000" stroke-width="1"/>
<line x1="1556.5" y1="1085.2" x2="1556.5" y2="1097.8" stroke="#000000" stroke-width="1"/>
<line x1="1552" y1="1085.5" x2="1561" y2="1085.5" stroke="#000000" stroke-width="1"/>
<line x1="1556.5" y1="1118.4" x2="1556.5" y2="1131.9" stroke="#000000" stroke-width="1"/>
<line x1="1552" y1="1131.5" x2="1561" y2="1131.5" stroke="#000000" stroke-width="1"/>
<line x1="1354.5" y1="956.7" x2="1354.5" y2="982.4" stroke="#000000" stroke-width="1"/>
<line x1="1350" y1="956.5" x2="1359" y2="956.5" stroke="#000000" stroke-width="1"/>
<line x1="1354.5" y1="1003" x2="1354.5" y2="1033.5" stroke="#000000" stroke-width="1"/>
<line x1="1350" y1="1033.5" x2="1359" y2="1033.5" stroke="#000000" stroke-width="1"/>
<line x1="1556.5" y1="1036.8" x2="1556.5" y2="1054.8" stroke="#000000" stroke-width="1"/>
<line x1="1552" y1="1036.5" x2="1561" y2="1036.5" stroke="#000000" stroke-width="1"/>
<line x1="1556.5" y1="1075.4" x2="1556.5" y2="1094.5" stroke="#000000" stroke-width="1"/>
<line x1="1552" y1="1094.5" x2="1561" y2="1094.5" stroke="#000000" stroke-width="1"/>
<line x1="1076.74" y1="793.6" x2="1076.74" y2="1229.2" stroke="#000" stroke-width="2.2"/>
<line x1="1069.44" y1="1228.1" x2="1607.1" y2="1228.1" stroke="#000" stroke-width="2.2"/>
<line x1="1069.44" y1="1228.1" x2="1076.74" y2="1228.1" stroke="#000" stroke-width="2.2"/>
<text transform="translate(1064.14 1244.3) scale(1.0 1.04)" font-size="55" text-anchor="end" stroke="#000">0</text>
<line x1="1072.94" y1="1173.82" x2="1076.74" y2="1173.82" stroke="#000" stroke-width="2.2"/>
<line x1="1069.44" y1="1119.55" x2="1076.74" y2="1119.55" stroke="#000" stroke-width="2.2"/>
<text transform="translate(1064.14 1135.75) scale(1.0 1.04)" font-size="55" text-anchor="end" stroke="#000">3</text>
<line x1="1072.94" y1="1065.27" x2="1076.74" y2="1065.27" stroke="#000" stroke-width="2.2"/>
<line x1="1069.44" y1="1011" x2="1076.74" y2="1011" stroke="#000" stroke-width="2.2"/>
<text transform="translate(1064.14 1027.2) scale(1.0 1.04)" font-size="55" text-anchor="end" stroke="#000">6</text>
<line x1="1072.94" y1="956.72" x2="1076.74" y2="956.72" stroke="#000" stroke-width="2.2"/>
<line x1="1069.44" y1="902.45" x2="1076.74" y2="902.45" stroke="#000" stroke-width="2.2"/>
<text transform="translate(1064.14 918.65) scale(1.0 1.04)" font-size="55" text-anchor="end" stroke="#000">9</text>
<line x1="1072.94" y1="848.17" x2="1076.74" y2="848.17" stroke="#000" stroke-width="2.2"/>
<line x1="1069.44" y1="793.9" x2="1076.74" y2="793.9" stroke="#000" stroke-width="2.2"/>
<text transform="translate(1064.14 810.1) scale(1.0 1.04)" font-size="55" text-anchor="end" stroke="#000">12</text>
<rect x="1006.26" y="804.88" width="10.2" height="6.72" fill="#fff"/>
<rect x="1021.92" y="804.88" width="9.76" height="6.72" fill="#fff"/>
<line x1="1127.1" y1="1228.1" x2="1127.1" y2="1235.4" stroke="#000" stroke-width="2.2"/>
<text transform="translate(1127.1 1283.1) scale(1.0 1.04)" font-size="55" text-anchor="middle" stroke="#000">3</text>
<line x1="1202.79" y1="1228.1" x2="1202.79" y2="1235.4" stroke="#000" stroke-width="2.2"/>
<text transform="translate(1202.79 1283.1) scale(1.0 1.04)" font-size="55" text-anchor="middle" stroke="#000">6</text>
<line x1="1278.48" y1="1228.1" x2="1278.48" y2="1235.4" stroke="#000" stroke-width="2.2"/>
<text transform="translate(1278.48 1283.1) scale(1.0 1.04)" font-size="55" text-anchor="middle" stroke="#000">9</text>
<line x1="1354.17" y1="1228.1" x2="1354.17" y2="1235.4" stroke="#000" stroke-width="2.2"/>
<text transform="translate(1354.17 1283.1) scale(1.0 1.04)" font-size="55" text-anchor="middle" stroke="#000">12</text>
<rect x="1326.88" y="1277.88" width="10.2" height="6.72" fill="#fff"/>
<rect x="1342.53" y="1277.88" width="9.76" height="6.72" fill="#fff"/>
<line x1="1429.86" y1="1228.1" x2="1429.86" y2="1235.4" stroke="#000" stroke-width="2.2"/>
<text transform="translate(1429.86 1283.1) scale(1.0 1.04)" font-size="55" text-anchor="middle" stroke="#000">15</text>
<rect x="1402.57" y="1277.88" width="10.2" height="6.72" fill="#fff"/>
<rect x="1418.22" y="1277.88" width="9.76" height="6.72" fill="#fff"/>
<line x1="1505.55" y1="1228.1" x2="1505.55" y2="1235.4" stroke="#000" stroke-width="2.2"/>
<text transform="translate(1505.55 1283.1) scale(1.0 1.04)" font-size="55" text-anchor="middle" stroke="#000">18</text>
<rect x="1478.26" y="1277.88" width="10.2" height="6.72" fill="#fff"/>
<rect x="1493.91" y="1277.88" width="9.76" height="6.72" fill="#fff"/>
<line x1="1581.24" y1="1228.1" x2="1581.24" y2="1235.4" stroke="#000" stroke-width="2.2"/>
<text transform="translate(1581.24 1283.1) scale(1.0 1.04)" font-size="55" text-anchor="middle" stroke="#000">21</text>
<rect x="1584.54" y="1277.88" width="10.2" height="6.72" fill="#fff"/>
<rect x="1600.19" y="1277.88" width="9.76" height="6.72" fill="#fff"/>
<line x1="1089.25" y1="1228.1" x2="1089.25" y2="1231.9" stroke="#000" stroke-width="2.2"/>
<line x1="1164.94" y1="1228.1" x2="1164.94" y2="1231.9" stroke="#000" stroke-width="2.2"/>
<line x1="1240.63" y1="1228.1" x2="1240.63" y2="1231.9" stroke="#000" stroke-width="2.2"/>
<line x1="1316.32" y1="1228.1" x2="1316.32" y2="1231.9" stroke="#000" stroke-width="2.2"/>
<line x1="1392.01" y1="1228.1" x2="1392.01" y2="1231.9" stroke="#000" stroke-width="2.2"/>
<line x1="1467.7" y1="1228.1" x2="1467.7" y2="1231.9" stroke="#000" stroke-width="2.2"/>
<line x1="1543.39" y1="1228.1" x2="1543.39" y2="1231.9" stroke="#000" stroke-width="2.2"/>
<text transform="translate(1101.9 822.3) scale(0.944 1.03)" font-size="56" font-weight="bold" stroke="#000">E</text>
<text x="1604.9" y="964.1" font-size="55" stroke="#000">a</text>
<text x="1604.9" y="1047.8" font-size="55" fill="#0000ff" stroke="#0000ff">ab</text>
<text x="1604.9" y="1111.8" font-size="55" fill="#ff0000" stroke="#ff0000">ab</text>
<text x="1604.6" y="1166.7" font-size="55" fill="#008000" stroke="#008000">b</text>
</g>
<g id="panel-F">
<line x1="1959.95" y1="898.55" x2="2159.52" y2="936.95" stroke="#222222" stroke-width="1"/>
<line x1="2186.17" y1="945.03" x2="2362.21" y2="1019.07" stroke="#222222" stroke-width="1"/>
<circle cx="1946.2" cy="895.9" r="10.3" fill="#000000"/>
<circle cx="2173.27" cy="939.6" r="10.3" fill="#000000"/>
<circle cx="2375.11" cy="1024.5" r="10.3" fill="#000000"/>
<line x1="2184.67" y1="955.82" x2="2363.71" y2="1083.38" stroke="#ff0000" stroke-width="1"/>
<circle cx="2173.27" cy="947.7" r="10.3" fill="#ff0000"/>
<circle cx="2375.11" cy="1091.5" r="10.3" fill="#ff0000"/>
<line x1="2187.24" y1="1040.97" x2="2361.14" y2="1051.73" stroke="#008000" stroke-width="1"/>
<circle cx="2173.27" cy="1040.1" r="10.3" fill="#008000"/>
<circle cx="2375.11" cy="1052.6" r="10.3" fill="#008000"/>
<line x1="2187.27" y1="1024.3" x2="2361.11" y2="1025.5" stroke="#0000ff" stroke-width="1"/>
<circle cx="2173.27" cy="1024.2" r="10.3" fill="#0000ff"/>
<circle cx="2375.11" cy="1025.6" r="10.3" fill="#0000ff"/>
<line x1="1946.5" y1="828.9" x2="1946.5" y2="885.6" stroke="#000000" stroke-width="1"/>
<line x1="1942" y1="828.5" x2="1951" y2="828.5" stroke="#000000" stroke-width="1"/>
<line x1="1946.5" y1="906.2" x2="1946.5" y2="962.8" stroke="#000000" stroke-width="1"/>
<line x1="1942" y1="962.5" x2="1951" y2="962.5" stroke="#000000" stroke-width="1"/>
<line x1="2173.5" y1="880.6" x2="2173.5" y2="929.3" stroke="#000000" stroke-width="1"/>
<line x1="2169" y1="880.5" x2="2178" y2="880.5" stroke="#000000" stroke-width="1"/>
<line x1="2173.5" y1="949.9" x2="2173.5" y2="1001.1" stroke="#000000" stroke-width="1"/>
<line x1="2169" y1="1001.5" x2="2178" y2="1001.5" stroke="#000000" stroke-width="1"/>
<line x1="2173.5" y1="865.8" x2="2173.5" y2="937.4" stroke="#000000" stroke-width="1"/>
<line x1="2169" y1="865.5" x2="2178" y2="865.5" stroke="#000000" stroke-width="1"/>
<line x1="2173.5" y1="958" x2="2173.5" y2="1032.8" stroke="#000000" stroke-width="1"/>
<line x1="2169" y1="1032.5" x2="2178" y2="1032.5" stroke="#000000" stroke-width="1"/>
<line x1="2375.5" y1="1044.9" x2="2375.5" y2="1081.2" stroke="#000000" stroke-width="1"/>
<line x1="2371" y1="1044.5" x2="2380" y2="1044.5" stroke="#000000" stroke-width="1"/>
<line x1="2375.5" y1="1101.8" x2="2375.5" y2="1139.1" stroke="#000000" stroke-width="1"/>
<line x1="2371" y1="1139.5" x2="2380" y2="1139.5" stroke="#000000" stroke-width="1"/>
<line x1="2375.5" y1="979.4" x2="2375.5" y2="1015.3" stroke="#000000" stroke-width="1"/>
<line x1="2371" y1="979.5" x2="2380" y2="979.5" stroke="#000000" stroke-width="1"/>
<line x1="2375.5" y1="1035.9" x2="2375.5" y2="1070.6" stroke="#000000" stroke-width="1"/>
<line x1="2371" y1="1070.5" x2="2380" y2="1070.5" stroke="#000000" stroke-width="1"/>
<line x1="1895.54" y1="793.6" x2="1895.54" y2="1229.2" stroke="#000" stroke-width="2.2"/>
<line x1="1888.24" y1="1228.1" x2="2426" y2="1228.1" stroke="#000" stroke-width="2.2"/>
<line x1="1888.24" y1="1228.1" x2="1895.54" y2="1228.1" stroke="#000" stroke-width="2.2"/>
<text transform="translate(1882.94 1244.3) scale(1.0 1.04)" font-size="55" text-anchor="end" stroke="#000">0</text>
<line x1="1891.74" y1="1184.68" x2="1895.54" y2="1184.68" stroke="#000" stroke-width="2.2"/>
<line x1="1888.24" y1="1141.26" x2="1895.54" y2="1141.26" stroke="#000" stroke-width="2.2"/>
<text transform="translate(1882.94 1157.46) scale(1.0 1.04)" font-size="55" text-anchor="end" stroke="#000">3</text>
<line x1="1891.74" y1="1097.84" x2="1895.54" y2="1097.84" stroke="#000" stroke-width="2.2"/>
<line x1="1888.24" y1="1054.42" x2="1895.54" y2="1054.42" stroke="#000" stroke-width="2.2"/>
<text transform="translate(1882.94 1070.62) scale(1.0 1.04)" font-size="55" text-anchor="end" stroke="#000">6</text>
<line x1="1891.74" y1="1011" x2="1895.54" y2="1011" stroke="#000" stroke-width="2.2"/>
<line x1="1888.24" y1="967.58" x2="1895.54" y2="967.58" stroke="#000" stroke-width="2.2"/>
<text transform="translate(1882.94 983.78) scale(1.0 1.04)" font-size="55" text-anchor="end" stroke="#000">9</text>
<line x1="1891.74" y1="924.16" x2="1895.54" y2="924.16" stroke="#000" stroke-width="2.2"/>
<line x1="1888.24" y1="880.74" x2="1895.54" y2="880.74" stroke="#000" stroke-width="2.2"/>
<text transform="translate(1882.94 896.94) scale(1.0 1.04)" font-size="55" text-anchor="end" stroke="#000">12</text>
<rect x="1825.06" y="891.72" width="10.2" height="6.72" fill="#fff"/>
<rect x="1840.72" y="891.72" width="9.76" height="6.72" fill="#fff"/>
<line x1="1891.74" y1="837.32" x2="1895.54" y2="837.32" stroke="#000" stroke-width="2.2"/>
<line x1="1888.24" y1="793.9" x2="1895.54" y2="793.9" stroke="#000" stroke-width="2.2"/>
<text transform="translate(1882.94 810.1) scale(1.0 1.04)" font-size="55" text-anchor="end" stroke="#000">15</text>
<rect x="1825.06" y="804.88" width="10.2" height="6.72" fill="#fff"/>
<rect x="1840.72" y="804.88" width="9.76" height="6.72" fill="#fff"/>
<line x1="1946.2" y1="1228.1" x2="1946.2" y2="1235.4" stroke="#000" stroke-width="2.2"/>
<text transform="translate(1946.2 1283.1) scale(1.0 1.04)" font-size="55" text-anchor="middle" stroke="#000">3</text>
<line x1="2021.89" y1="1228.1" x2="2021.89" y2="1235.4" stroke="#000" stroke-width="2.2"/>
<text transform="translate(2021.89 1283.1) scale(1.0 1.04)" font-size="55" text-anchor="middle" stroke="#000">6</text>
<line x1="2097.58" y1="1228.1" x2="2097.58" y2="1235.4" stroke="#000" stroke-width="2.2"/>
<text transform="translate(2097.58 1283.1) scale(1.0 1.04)" font-size="55" text-anchor="middle" stroke="#000">9</text>
<line x1="2173.27" y1="1228.1" x2="2173.27" y2="1235.4" stroke="#000" stroke-width="2.2"/>
<text transform="translate(2173.27 1283.1) scale(1.0 1.04)" font-size="55" text-anchor="middle" stroke="#000">12</text>
<rect x="2145.98" y="1277.88" width="10.2" height="6.72" fill="#fff"/>
<rect x="2161.63" y="1277.88" width="9.76" height="6.72" fill="#fff"/>
<line x1="2248.96" y1="1228.1" x2="2248.96" y2="1235.4" stroke="#000" stroke-width="2.2"/>
<text transform="translate(2248.96 1283.1) scale(1.0 1.04)" font-size="55" text-anchor="middle" stroke="#000">15</text>
<rect x="2221.67" y="1277.88" width="10.2" height="6.72" fill="#fff"/>
<rect x="2237.32" y="1277.88" width="9.76" height="6.72" fill="#fff"/>
<line x1="2324.65" y1="1228.1" x2="2324.65" y2="1235.4" stroke="#000" stroke-width="2.2"/>
<text transform="translate(2324.65 1283.1) scale(1.0 1.04)" font-size="55" text-anchor="middle" stroke="#000">18</text>
<rect x="2297.36" y="1277.88" width="10.2" height="6.72" fill="#fff"/>
<rect x="2313.01" y="1277.88" width="9.76" height="6.72" fill="#fff"/>
<line x1="2400.34" y1="1228.1" x2="2400.34" y2="1235.4" stroke="#000" stroke-width="2.2"/>
<text transform="translate(2400.34 1283.1) scale(1.0 1.04)" font-size="55" text-anchor="middle" stroke="#000">21</text>
<rect x="2403.64" y="1277.88" width="10.2" height="6.72" fill="#fff"/>
<rect x="2419.29" y="1277.88" width="9.76" height="6.72" fill="#fff"/>
<line x1="1908.36" y1="1228.1" x2="1908.36" y2="1231.9" stroke="#000" stroke-width="2.2"/>
<line x1="1984.05" y1="1228.1" x2="1984.05" y2="1231.9" stroke="#000" stroke-width="2.2"/>
<line x1="2059.74" y1="1228.1" x2="2059.74" y2="1231.9" stroke="#000" stroke-width="2.2"/>
<line x1="2135.43" y1="1228.1" x2="2135.43" y2="1231.9" stroke="#000" stroke-width="2.2"/>
<line x1="2211.12" y1="1228.1" x2="2211.12" y2="1231.9" stroke="#000" stroke-width="2.2"/>
<line x1="2286.81" y1="1228.1" x2="2286.81" y2="1231.9" stroke="#000" stroke-width="2.2"/>
<line x1="2362.49" y1="1228.1" x2="2362.49" y2="1231.9" stroke="#000" stroke-width="2.2"/>
<text transform="translate(1914.6 822.3) scale(0.944 1.03)" font-size="56" font-weight="bold" stroke="#000">F</text>
<text x="2419.6" y="981.5" font-size="55" stroke="#000">a</text>
<text x="2419.6" y="1039.6" font-size="55" fill="#0000ff" stroke="#0000ff">a</text>
<text x="2419.6" y="1088.5" font-size="55" fill="#008000" stroke="#008000">a</text>
<text x="2419.6" y="1141.3" font-size="55" fill="#ff0000" stroke="#ff0000">a</text>
</g>
<g id="panel-G">
<line x1="321.96" y1="1507.67" x2="396.16" y2="1530.83" stroke="#222222" stroke-width="1"/>
<line x1="423.27" y1="1532.34" x2="521.92" y2="1513.26" stroke="#222222" stroke-width="1"/>
<line x1="545.97" y1="1520.08" x2="601.06" y2="1570.82" stroke="#222222" stroke-width="1"/>
<line x1="625.21" y1="1578.25" x2="723.66" y2="1563.65" stroke="#222222" stroke-width="1"/>
<circle cx="308.6" cy="1503.5" r="10.3" fill="#000000"/>
<circle cx="409.52" cy="1535" r="10.3" fill="#000000"/>
<circle cx="535.67" cy="1510.6" r="10.3" fill="#000000"/>
<circle cx="611.36" cy="1580.3" r="10.3" fill="#000000"/>
<circle cx="737.51" cy="1561.6" r="10.3" fill="#000000"/>
<line x1="318.09" y1="1557.89" x2="400.03" y2="1646.81" stroke="#ff0000" stroke-width="1"/>
<line x1="423.02" y1="1660.82" x2="522.17" y2="1688.18" stroke="#ff0000" stroke-width="1"/>
<line x1="549.51" y1="1694.04" x2="597.52" y2="1701.46" stroke="#ff0000" stroke-width="1"/>
<line x1="624.53" y1="1708.34" x2="724.34" y2="1744.26" stroke="#ff0000" stroke-width="1"/>
<circle cx="308.6" cy="1547.6" r="10.3" fill="#ff0000"/>
<circle cx="409.52" cy="1657.1" r="10.3" fill="#ff0000"/>
<circle cx="535.67" cy="1691.9" r="10.3" fill="#ff0000"/>
<circle cx="611.36" cy="1703.6" r="10.3" fill="#ff0000"/>
<circle cx="737.51" cy="1749" r="10.3" fill="#ff0000"/>
<line x1="316.54" y1="1554.73" x2="401.58" y2="1678.17" stroke="#008000" stroke-width="1"/>
<line x1="423.5" y1="1688.88" x2="521.69" y2="1683.12" stroke="#008000" stroke-width="1"/>
<line x1="547.06" y1="1690.44" x2="599.97" y2="1728.26" stroke="#008000" stroke-width="1"/>
<line x1="625.36" y1="1736.16" x2="723.51" y2="1734.44" stroke="#008000" stroke-width="1"/>
<circle cx="308.6" cy="1543.2" r="10.3" fill="#008000"/>
<circle cx="409.52" cy="1689.7" r="10.3" fill="#008000"/>
<circle cx="535.67" cy="1682.3" r="10.3" fill="#008000"/>
<circle cx="611.36" cy="1736.4" r="10.3" fill="#008000"/>
<circle cx="737.51" cy="1734.2" r="10.3" fill="#008000"/>
<line x1="315.89" y1="1470.95" x2="402.23" y2="1612.65" stroke="#0000ff" stroke-width="1"/>
<line x1="423.38" y1="1626.59" x2="521.81" y2="1640.71" stroke="#0000ff" stroke-width="1"/>
<line x1="548.58" y1="1637.29" x2="598.45" y2="1616.41" stroke="#0000ff" stroke-width="1"/>
<line x1="624.46" y1="1615.94" x2="724.41" y2="1653.66" stroke="#0000ff" stroke-width="1"/>
<circle cx="308.6" cy="1459" r="10.3" fill="#0000ff"/>
<circle cx="409.52" cy="1624.6" r="10.3" fill="#0000ff"/>
<circle cx="535.67" cy="1642.7" r="10.3" fill="#0000ff"/>
<circle cx="611.36" cy="1611" r="10.3" fill="#0000ff"/>
<circle cx="737.51" cy="1658.6" r="10.3" fill="#0000ff"/>
<line x1="308.5" y1="1436.6" x2="308.5" y2="1493.2" stroke="#000000" stroke-width="1"/>
<line x1="304" y1="1436.5" x2="313" y2="1436.5" stroke="#000000" stroke-width="1"/>
<line x1="308.5" y1="1513.8" x2="308.5" y2="1572.2" stroke="#000000" stroke-width="1"/>
<line x1="304" y1="1572.5" x2="313" y2="1572.5" stroke="#000000" stroke-width="1"/>
<line x1="409.5" y1="1496" x2="409.5" y2="1524.7" stroke="#000000" stroke-width="1"/>
<line x1="405" y1="1496.5" x2="414" y2="1496.5" stroke="#000000" stroke-width="1"/>
<line x1="409.5" y1="1545.3" x2="409.5" y2="1574.9" stroke="#000000" stroke-width="1"/>
<line x1="405" y1="1574.5" x2="414" y2="1574.5" stroke="#000000" stroke-width="1"/>
<line x1="535.5" y1="1468.5" x2="535.5" y2="1500.3" stroke="#000000" stroke-width="1"/>
<line x1="531" y1="1468.5" x2="540" y2="1468.5" stroke="#000000" stroke-width="1"/>
<line x1="535.5" y1="1520.9" x2="535.5" y2="1553.8" stroke="#000000" stroke-width="1"/>
<line x1="531" y1="1553.5" x2="540" y2="1553.5" stroke="#000000" stroke-width="1"/>
<line x1="611.5" y1="1553.8" x2="611.5" y2="1570" stroke="#000000" stroke-width="1"/>
<line x1="607" y1="1553.5" x2="616" y2="1553.5" stroke="#000000" stroke-width="1"/>
<line x1="611.5" y1="1590.6" x2="611.5" y2="1607.7" stroke="#000000" stroke-width="1"/>
<line x1="607" y1="1607.5" x2="616" y2="1607.5" stroke="#000000" stroke-width="1"/>
<line x1="737.5" y1="1539.9" x2="737.5" y2="1551.3" stroke="#000000" stroke-width="1"/>
<line x1="733" y1="1539.5" x2="742" y2="1539.5" stroke="#000000" stroke-width="1"/>
<line x1="737.5" y1="1571.9" x2="737.5" y2="1583.5" stroke="#000000" stroke-width="1"/>
<line x1="733" y1="1583.5" x2="742" y2="1583.5" stroke="#000000" stroke-width="1"/>
<line x1="308.5" y1="1529.5" x2="308.5" y2="1537.3" stroke="#000000" stroke-width="1"/>
<line x1="304" y1="1529.5" x2="313" y2="1529.5" stroke="#000000" stroke-width="1"/>
<line x1="308.5" y1="1557.9" x2="308.5" y2="1567.9" stroke="#000000" stroke-width="1"/>
<line x1="304" y1="1567.5" x2="313" y2="1567.5" stroke="#000000" stroke-width="1"/>
<line x1="409.5" y1="1636.1" x2="409.5" y2="1646.8" stroke="#000000" stroke-width="1"/>
<line x1="405" y1="1636.5" x2="414" y2="1636.5" stroke="#000000" stroke-width="1"/>
<line x1="409.5" y1="1667.4" x2="409.5" y2="1680.9" stroke="#000000" stroke-width="1"/>
<line x1="405" y1="1680.5" x2="414" y2="1680.5" stroke="#000000" stroke-width="1"/>
<line x1="535.5" y1="1666.8" x2="535.5" y2="1681.6" stroke="#000000" stroke-width="1"/>
<line x1="531" y1="1666.5" x2="540" y2="1666.5" stroke="#000000" stroke-width="1"/>
<line x1="535.5" y1="1702.2" x2="535.5" y2="1716.2" stroke="#000000" stroke-width="1"/>
<line x1="531" y1="1716.5" x2="540" y2="1716.5" stroke="#000000" stroke-width="1"/>
<line x1="611.5" y1="1691" x2="611.5" y2="1693.3" stroke="#000000" stroke-width="1"/>
<line x1="607" y1="1691.5" x2="616" y2="1691.5" stroke="#000000" stroke-width="1"/>
<line x1="611.5" y1="1713.9" x2="611.5" y2="1717.5" stroke="#000000" stroke-width="1"/>
<line x1="607" y1="1717.5" x2="616" y2="1717.5" stroke="#000000" stroke-width="1"/>
<line x1="737.5" y1="1724.1" x2="737.5" y2="1738.7" stroke="#000000" stroke-width="1"/>
<line x1="733" y1="1724.5" x2="742" y2="1724.5" stroke="#000000" stroke-width="1"/>
<line x1="737.5" y1="1759.3" x2="737.5" y2="1774.3" stroke="#000000" stroke-width="1"/>
<line x1="733" y1="1774.5" x2="742" y2="1774.5" stroke="#000000" stroke-width="1"/>
<line x1="308.5" y1="1476.9" x2="308.5" y2="1532.9" stroke="#000000" stroke-width="1"/>
<line x1="304" y1="1476.5" x2="313" y2="1476.5" stroke="#000000" stroke-width="1"/>
<line x1="308.5" y1="1553.5" x2="308.5" y2="1611.9" stroke="#000000" stroke-width="1"/>
<line x1="304" y1="1611.5" x2="313" y2="1611.5" stroke="#000000" stroke-width="1"/>
<line x1="409.5" y1="1660.7" x2="409.5" y2="1679.4" stroke="#000000" stroke-width="1"/>
<line x1="405" y1="1660.5" x2="414" y2="1660.5" stroke="#000000" stroke-width="1"/>
<line x1="409.5" y1="1700" x2="409.5" y2="1720.8" stroke="#000000" stroke-width="1"/>
<line x1="405" y1="1720.5" x2="414" y2="1720.5" stroke="#000000" stroke-width="1"/>
<line x1="535.5" y1="1654.7" x2="535.5" y2="1672" stroke="#000000" stroke-width="1"/>
<line x1="531" y1="1654.5" x2="540" y2="1654.5" stroke="#000000" stroke-width="1"/>
<line x1="535.5" y1="1692.6" x2="535.5" y2="1709.3" stroke="#000000" stroke-width="1"/>
<line x1="531" y1="1709.5" x2="540" y2="1709.5" stroke="#000000" stroke-width="1"/>
<line x1="611.5" y1="1676.4" x2="611.5" y2="1726.1" stroke="#000000" stroke-width="1"/>
<line x1="607" y1="1676.5" x2="616" y2="1676.5" stroke="#000000" stroke-width="1"/>
<line x1="611.5" y1="1746.7" x2="611.5" y2="1790.7" stroke="#000000" stroke-width="1"/>
<line x1="737.5" y1="1707.1" x2="737.5" y2="1723.9" stroke="#000000" stroke-width="1"/>
<line x1="733" y1="1707.5" x2="742" y2="1707.5" stroke="#000000" stroke-width="1"/>
<line x1="737.5" y1="1744.5" x2="737.5" y2="1763.3" stroke="#000000" stroke-width="1"/>
<line x1="733" y1="1763.5" x2="742" y2="1763.5" stroke="#000000" stroke-width="1"/>
<line x1="308.5" y1="1398" x2="308.5" y2="1448.7" stroke="#000000" stroke-width="1"/>
<line x1="304" y1="1398.5" x2="313" y2="1398.5" stroke="#000000" stroke-width="1"/>
<line x1="308.5" y1="1469.3" x2="308.5" y2="1521.2" stroke="#000000" stroke-width="1"/>
<line x1="304" y1="1521.5" x2="313" y2="1521.5" stroke="#000000" stroke-width="1"/>
<line x1="409.5" y1="1578" x2="409.5" y2="1614.3" stroke="#000000" stroke-width="1"/>
<line x1="405" y1="1578.5" x2="414" y2="1578.5" stroke="#000000" stroke-width="1"/>
<line x1="409.5" y1="1634.9" x2="409.5" y2="1671.7" stroke="#000000" stroke-width="1"/>
<line x1="405" y1="1671.5" x2="414" y2="1671.5" stroke="#000000" stroke-width="1"/>
<line x1="535.5" y1="1592.1" x2="535.5" y2="1632.4" stroke="#000000" stroke-width="1"/>
<line x1="531" y1="1592.5" x2="540" y2="1592.5" stroke="#000000" stroke-width="1"/>
<line x1="535.5" y1="1653" x2="535.5" y2="1692.8" stroke="#000000" stroke-width="1"/>
<line x1="531" y1="1692.5" x2="540" y2="1692.5" stroke="#000000" stroke-width="1"/>
<line x1="611.5" y1="1586.9" x2="611.5" y2="1600.7" stroke="#000000" stroke-width="1"/>
<line x1="607" y1="1586.5" x2="616" y2="1586.5" stroke="#000000" stroke-width="1"/>
<line x1="611.5" y1="1621.3" x2="611.5" y2="1635.2" stroke="#000000" stroke-width="1"/>
<line x1="607" y1="1635.5" x2="616" y2="1635.5" stroke="#000000" stroke-width="1"/>
<line x1="737.5" y1="1625.6" x2="737.5" y2="1648.3" stroke="#000000" stroke-width="1"/>
<line x1="733" y1="1625.5" x2="742" y2="1625.5" stroke="#000000" stroke-width="1"/>
<line x1="737.5" y1="1668.9" x2="737.5" y2="1693.4" stroke="#000000" stroke-width="1"/>
<line x1="733" y1="1693.5" x2="742" y2="1693.5" stroke="#000000" stroke-width="1"/>
<line x1="409.5" y1="1679.4" x2="409.5" y2="1700" stroke="#000000" stroke-width="1"/>
<line x1="535.5" y1="1672" x2="535.5" y2="1692.6" stroke="#000000" stroke-width="1"/>
<line x1="405" y1="1715.5" x2="414" y2="1715.5" stroke="#000000" stroke-width="1"/>
<line x1="405" y1="1666.5" x2="414" y2="1666.5" stroke="#000000" stroke-width="1"/>
<line x1="405" y1="1685.5" x2="414" y2="1685.5" stroke="#000000" stroke-width="1"/>
<line x1="405" y1="1695.5" x2="414" y2="1695.5" stroke="#000000" stroke-width="1"/>
<line x1="531" y1="1657.5" x2="540" y2="1657.5" stroke="#000000" stroke-width="1"/>
<line x1="531" y1="1711.5" x2="540" y2="1711.5" stroke="#000000" stroke-width="1"/>
<line x1="531" y1="1679.5" x2="540" y2="1679.5" stroke="#000000" stroke-width="1"/>
<line x1="531" y1="1687.5" x2="540" y2="1687.5" stroke="#000000" stroke-width="1"/>
<line x1="257.54" y1="1354.8" x2="257.54" y2="1791.8" stroke="#000" stroke-width="2.2"/>
<line x1="250.24" y1="1790.7" x2="788.3" y2="1790.7" stroke="#000" stroke-width="2.2"/>
<line x1="250.24" y1="1790.7" x2="257.54" y2="1790.7" stroke="#000" stroke-width="2.2"/>
<text transform="translate(244.94 1806.5) scale(1.0 1.04)" font-size="55" text-anchor="end" stroke="#000">0</text>
<line x1="253.74" y1="1754.4" x2="257.54" y2="1754.4" stroke="#000" stroke-width="2.2"/>
<line x1="250.24" y1="1718.1" x2="257.54" y2="1718.1" stroke="#000" stroke-width="2.2"/>
<text transform="translate(244.94 1733.9) scale(1.0 1.04)" font-size="55" text-anchor="end" stroke="#000">10</text>
<rect x="187.06" y="1728.68" width="10.2" height="6.72" fill="#fff"/>
<rect x="202.72" y="1728.68" width="9.76" height="6.72" fill="#fff"/>
<line x1="253.74" y1="1681.8" x2="257.54" y2="1681.8" stroke="#000" stroke-width="2.2"/>
<line x1="250.24" y1="1645.5" x2="257.54" y2="1645.5" stroke="#000" stroke-width="2.2"/>
<text transform="translate(244.94 1661.3) scale(1.0 1.04)" font-size="55" text-anchor="end" stroke="#000">20</text>
<line x1="253.74" y1="1609.2" x2="257.54" y2="1609.2" stroke="#000" stroke-width="2.2"/>
<line x1="250.24" y1="1572.9" x2="257.54" y2="1572.9" stroke="#000" stroke-width="2.2"/>
<text transform="translate(244.94 1588.7) scale(1.0 1.04)" font-size="55" text-anchor="end" stroke="#000">30</text>
<line x1="253.74" y1="1536.6" x2="257.54" y2="1536.6" stroke="#000" stroke-width="2.2"/>
<line x1="250.24" y1="1500.3" x2="257.54" y2="1500.3" stroke="#000" stroke-width="2.2"/>
<text transform="translate(244.94 1516.1) scale(1.0 1.04)" font-size="55" text-anchor="end" stroke="#000">40</text>
<line x1="253.74" y1="1464" x2="257.54" y2="1464" stroke="#000" stroke-width="2.2"/>
<line x1="250.24" y1="1427.7" x2="257.54" y2="1427.7" stroke="#000" stroke-width="2.2"/>
<text transform="translate(244.94 1443.5) scale(1.0 1.04)" font-size="55" text-anchor="end" stroke="#000">50</text>
<line x1="253.74" y1="1391.4" x2="257.54" y2="1391.4" stroke="#000" stroke-width="2.2"/>
<line x1="250.24" y1="1355.1" x2="257.54" y2="1355.1" stroke="#000" stroke-width="2.2"/>
<text transform="translate(244.94 1370.9) scale(1.0 1.04)" font-size="55" text-anchor="end" stroke="#000">60</text>
<line x1="308.6" y1="1790.7" x2="308.6" y2="1798" stroke="#000" stroke-width="2.2"/>
<text transform="translate(308.6 1845.7) scale(1.0 1.04)" font-size="55" text-anchor="middle" stroke="#000">3</text>
<line x1="384.29" y1="1790.7" x2="384.29" y2="1798" stroke="#000" stroke-width="2.2"/>
<text transform="translate(384.29 1845.7) scale(1.0 1.04)" font-size="55" text-anchor="middle" stroke="#000">6</text>
<line x1="459.98" y1="1790.7" x2="459.98" y2="1798" stroke="#000" stroke-width="2.2"/>
<text transform="translate(459.98 1845.7) scale(1.0 1.04)" font-size="55" text-anchor="middle" stroke="#000">9</text>
<line x1="535.67" y1="1790.7" x2="535.67" y2="1798" stroke="#000" stroke-width="2.2"/>
<text transform="translate(535.67 1845.7) scale(1.0 1.04)" font-size="55" text-anchor="middle" stroke="#000">12</text>
<rect x="508.38" y="1840.48" width="10.2" height="6.72" fill="#fff"/>
<rect x="524.03" y="1840.48" width="9.76" height="6.72" fill="#fff"/>
<line x1="611.36" y1="1790.7" x2="611.36" y2="1798" stroke="#000" stroke-width="2.2"/>
<text transform="translate(611.36 1845.7) scale(1.0 1.04)" font-size="55" text-anchor="middle" stroke="#000">15</text>
<rect x="584.07" y="1840.48" width="10.2" height="6.72" fill="#fff"/>
<rect x="599.72" y="1840.48" width="9.76" height="6.72" fill="#fff"/>
<line x1="687.05" y1="1790.7" x2="687.05" y2="1798" stroke="#000" stroke-width="2.2"/>
<text transform="translate(687.05 1845.7) scale(1.0 1.04)" font-size="55" text-anchor="middle" stroke="#000">18</text>
<rect x="659.76" y="1840.48" width="10.2" height="6.72" fill="#fff"/>
<rect x="675.41" y="1840.48" width="9.76" height="6.72" fill="#fff"/>
<line x1="762.74" y1="1790.7" x2="762.74" y2="1798" stroke="#000" stroke-width="2.2"/>
<text transform="translate(762.74 1845.7) scale(1.0 1.04)" font-size="55" text-anchor="middle" stroke="#000">21</text>
<rect x="766.04" y="1840.48" width="10.2" height="6.72" fill="#fff"/>
<rect x="781.69" y="1840.48" width="9.76" height="6.72" fill="#fff"/>
<line x1="270.75" y1="1790.7" x2="270.75" y2="1794.5" stroke="#000" stroke-width="2.2"/>
<line x1="346.45" y1="1790.7" x2="346.45" y2="1794.5" stroke="#000" stroke-width="2.2"/>
<line x1="422.13" y1="1790.7" x2="422.13" y2="1794.5" stroke="#000" stroke-width="2.2"/>
<line x1="497.83" y1="1790.7" x2="497.83" y2="1794.5" stroke="#000" stroke-width="2.2"/>
<line x1="573.52" y1="1790.7" x2="573.52" y2="1794.5" stroke="#000" stroke-width="2.2"/>
<line x1="649.21" y1="1790.7" x2="649.21" y2="1794.5" stroke="#000" stroke-width="2.2"/>
<line x1="724.89" y1="1790.7" x2="724.89" y2="1794.5" stroke="#000" stroke-width="2.2"/>
<text transform="translate(274.3 1388) scale(0.944 1.03)" font-size="56" font-weight="bold" stroke="#000">G</text>
<text x="788.3" y="1578.4" font-size="55" stroke="#000">a</text>
<text x="788.3" y="1670.8" font-size="55" fill="#0000ff" stroke="#0000ff">ab</text>
<text x="788.3" y="1729.4" font-size="55" fill="#008000" stroke="#008000">b</text>
<text x="788.3" y="1786.2" font-size="55" fill="#ff0000" stroke="#ff0000">b</text>
</g>
<g id="panel-H">
<line x1="1138.49" y1="1523.05" x2="1216.63" y2="1578.95" stroke="#222222" stroke-width="1"/>
<line x1="1238.77" y1="1578.13" x2="1343.42" y2="1490.77" stroke="#222222" stroke-width="1"/>
<line x1="1365.87" y1="1489.5" x2="1418.16" y2="1523.9" stroke="#222222" stroke-width="1"/>
<line x1="1443.74" y1="1529.74" x2="1542.13" y2="1516.56" stroke="#222222" stroke-width="1"/>
<circle cx="1127.1" cy="1514.9" r="10.3" fill="#000000"/>
<circle cx="1228.02" cy="1587.1" r="10.3" fill="#000000"/>
<circle cx="1354.17" cy="1481.8" r="10.3" fill="#000000"/>
<circle cx="1429.86" cy="1531.6" r="10.3" fill="#000000"/>
<circle cx="1556.01" cy="1514.7" r="10.3" fill="#000000"/>
<line x1="1137.94" y1="1555.55" x2="1217.18" y2="1620.25" stroke="#ff0000" stroke-width="1"/>
<line x1="1241.93" y1="1627.5" x2="1340.26" y2="1616.2" stroke="#ff0000" stroke-width="1"/>
<line x1="1361.9" y1="1626.27" x2="1422.13" y2="1717.13" stroke="#ff0000" stroke-width="1"/>
<line x1="1443.51" y1="1725.7" x2="1542.36" y2="1703.3" stroke="#ff0000" stroke-width="1"/>
<circle cx="1127.1" cy="1546.7" r="10.3" fill="#ff0000"/>
<circle cx="1228.02" cy="1629.1" r="10.3" fill="#ff0000"/>
<circle cx="1354.17" cy="1614.6" r="10.3" fill="#ff0000"/>
<circle cx="1429.86" cy="1728.8" r="10.3" fill="#ff0000"/>
<circle cx="1556.01" cy="1700.2" r="10.3" fill="#ff0000"/>
<line x1="1137.1" y1="1524.4" x2="1218.02" y2="1603.7" stroke="#008000" stroke-width="1"/>
<line x1="1241.93" y1="1615.07" x2="1340.26" y2="1626.13" stroke="#008000" stroke-width="1"/>
<line x1="1368.16" y1="1628.13" x2="1415.87" y2="1629.57" stroke="#008000" stroke-width="1"/>
<line x1="1443.7" y1="1627.89" x2="1542.17" y2="1612.91" stroke="#008000" stroke-width="1"/>
<circle cx="1127.1" cy="1514.6" r="10.3" fill="#008000"/>
<circle cx="1228.02" cy="1613.5" r="10.3" fill="#008000"/>
<circle cx="1354.17" cy="1627.7" r="10.3" fill="#008000"/>
<circle cx="1429.86" cy="1630" r="10.3" fill="#008000"/>
<circle cx="1556.01" cy="1610.8" r="10.3" fill="#008000"/>
<line x1="1136.84" y1="1500.46" x2="1218.28" y2="1584.64" stroke="#0000ff" stroke-width="1"/>
<line x1="1241.99" y1="1595.67" x2="1340.2" y2="1602.53" stroke="#0000ff" stroke-width="1"/>
<line x1="1368.14" y1="1604.44" x2="1415.89" y2="1607.66" stroke="#0000ff" stroke-width="1"/>
<line x1="1441.99" y1="1601.61" x2="1543.88" y2="1542.89" stroke="#0000ff" stroke-width="1"/>
<circle cx="1127.1" cy="1490.4" r="10.3" fill="#0000ff"/>
<circle cx="1228.02" cy="1594.7" r="10.3" fill="#0000ff"/>
<circle cx="1354.17" cy="1603.5" r="10.3" fill="#0000ff"/>
<circle cx="1429.86" cy="1608.6" r="10.3" fill="#0000ff"/>
<circle cx="1556.01" cy="1535.9" r="10.3" fill="#0000ff"/>
<line x1="1127.5" y1="1441.4" x2="1127.5" y2="1504.6" stroke="#000000" stroke-width="1"/>
<line x1="1123" y1="1441.5" x2="1132" y2="1441.5" stroke="#000000" stroke-width="1"/>
<line x1="1127.5" y1="1525.2" x2="1127.5" y2="1590.1" stroke="#000000" stroke-width="1"/>
<line x1="1123" y1="1590.5" x2="1132" y2="1590.5" stroke="#000000" stroke-width="1"/>
<line x1="1228.5" y1="1525.6" x2="1228.5" y2="1576.8" stroke="#000000" stroke-width="1"/>
<line x1="1224" y1="1525.5" x2="1233" y2="1525.5" stroke="#000000" stroke-width="1"/>
<line x1="1228.5" y1="1597.4" x2="1228.5" y2="1644.7" stroke="#000000" stroke-width="1"/>
<line x1="1224" y1="1644.5" x2="1233" y2="1644.5" stroke="#000000" stroke-width="1"/>
<line x1="1354.5" y1="1407.1" x2="1354.5" y2="1471.5" stroke="#000000" stroke-width="1"/>
<line x1="1350" y1="1407.5" x2="1359" y2="1407.5" stroke="#000000" stroke-width="1"/>
<line x1="1354.5" y1="1492.1" x2="1354.5" y2="1556.7" stroke="#000000" stroke-width="1"/>
<line x1="1350" y1="1556.5" x2="1359" y2="1556.5" stroke="#000000" stroke-width="1"/>
<line x1="1429.5" y1="1505.4" x2="1429.5" y2="1521.3" stroke="#000000" stroke-width="1"/>
<line x1="1425" y1="1505.5" x2="1434" y2="1505.5" stroke="#000000" stroke-width="1"/>
<line x1="1429.5" y1="1541.9" x2="1429.5" y2="1559.1" stroke="#000000" stroke-width="1"/>
<line x1="1425" y1="1559.5" x2="1434" y2="1559.5" stroke="#000000" stroke-width="1"/>
<line x1="1556.5" y1="1459.7" x2="1556.5" y2="1504.4" stroke="#000000" stroke-width="1"/>
<line x1="1552" y1="1459.5" x2="1561" y2="1459.5" stroke="#000000" stroke-width="1"/>
<line x1="1556.5" y1="1525" x2="1556.5" y2="1570.7" stroke="#000000" stroke-width="1"/>
<line x1="1552" y1="1570.5" x2="1561" y2="1570.5" stroke="#000000" stroke-width="1"/>
<line x1="1127.5" y1="1557" x2="1127.5" y2="1614.1" stroke="#000000" stroke-width="1"/>
<line x1="1123" y1="1614.5" x2="1132" y2="1614.5" stroke="#000000" stroke-width="1"/>
<line x1="1228.5" y1="1591.9" x2="1228.5" y2="1618.8" stroke="#000000" stroke-width="1"/>
<line x1="1224" y1="1591.5" x2="1233" y2="1591.5" stroke="#000000" stroke-width="1"/>
<line x1="1228.5" y1="1639.4" x2="1228.5" y2="1665.7" stroke="#000000" stroke-width="1"/>
<line x1="1224" y1="1665.5" x2="1233" y2="1665.5" stroke="#000000" stroke-width="1"/>
<line x1="1350" y1="1604.5" x2="1359" y2="1604.5" stroke="#000000" stroke-width="1"/>
<line x1="1350" y1="1624.5" x2="1359" y2="1624.5" stroke="#000000" stroke-width="1"/>
<line x1="1429.5" y1="1665.5" x2="1429.5" y2="1718.5" stroke="#000000" stroke-width="1"/>
<line x1="1425" y1="1665.5" x2="1434" y2="1665.5" stroke="#000000" stroke-width="1"/>
<line x1="1429.5" y1="1739.1" x2="1429.5" y2="1790.7" stroke="#000000" stroke-width="1"/>
<line x1="1556.5" y1="1641.6" x2="1556.5" y2="1689.9" stroke="#000000" stroke-width="1"/>
<line x1="1552" y1="1641.5" x2="1561" y2="1641.5" stroke="#000000" stroke-width="1"/>
<line x1="1556.5" y1="1710.5" x2="1556.5" y2="1760.2" stroke="#000000" stroke-width="1"/>
<line x1="1552" y1="1760.5" x2="1561" y2="1760.5" stroke="#000000" stroke-width="1"/>
<line x1="1127.5" y1="1442.6" x2="1127.5" y2="1504.3" stroke="#000000" stroke-width="1"/>
<line x1="1123" y1="1442.5" x2="1132" y2="1442.5" stroke="#000000" stroke-width="1"/>
<line x1="1127.5" y1="1524.9" x2="1127.5" y2="1586.6" stroke="#000000" stroke-width="1"/>
<line x1="1123" y1="1586.5" x2="1132" y2="1586.5" stroke="#000000" stroke-width="1"/>
<line x1="1354.5" y1="1533.8" x2="1354.5" y2="1617.4" stroke="#000000" stroke-width="1"/>
<line x1="1350" y1="1533.5" x2="1359" y2="1533.5" stroke="#000000" stroke-width="1"/>
<line x1="1354.5" y1="1638" x2="1354.5" y2="1722.5" stroke="#000000" stroke-width="1"/>
<line x1="1350" y1="1722.5" x2="1359" y2="1722.5" stroke="#000000" stroke-width="1"/>
<line x1="1429.5" y1="1589.7" x2="1429.5" y2="1619.7" stroke="#000000" stroke-width="1"/>
<line x1="1425" y1="1589.5" x2="1434" y2="1589.5" stroke="#000000" stroke-width="1"/>
<line x1="1429.5" y1="1640.3" x2="1429.5" y2="1673.5" stroke="#000000" stroke-width="1"/>
<line x1="1425" y1="1673.5" x2="1434" y2="1673.5" stroke="#000000" stroke-width="1"/>
<line x1="1556.5" y1="1562.3" x2="1556.5" y2="1600.5" stroke="#000000" stroke-width="1"/>
<line x1="1552" y1="1562.5" x2="1561" y2="1562.5" stroke="#000000" stroke-width="1"/>
<line x1="1556.5" y1="1621.1" x2="1556.5" y2="1660.5" stroke="#000000" stroke-width="1"/>
<line x1="1552" y1="1660.5" x2="1561" y2="1660.5" stroke="#000000" stroke-width="1"/>
<line x1="1127.5" y1="1422.1" x2="1127.5" y2="1480.1" stroke="#000000" stroke-width="1"/>
<line x1="1123" y1="1422.5" x2="1132" y2="1422.5" stroke="#000000" stroke-width="1"/>
<line x1="1127.5" y1="1500.7" x2="1127.5" y2="1559.1" stroke="#000000" stroke-width="1"/>
<line x1="1123" y1="1559.5" x2="1132" y2="1559.5" stroke="#000000" stroke-width="1"/>
<line x1="1228.5" y1="1558" x2="1228.5" y2="1584.4" stroke="#000000" stroke-width="1"/>
<line x1="1224" y1="1558.5" x2="1233" y2="1558.5" stroke="#000000" stroke-width="1"/>
<line x1="1354.5" y1="1559.1" x2="1354.5" y2="1593.2" stroke="#000000" stroke-width="1"/>
<line x1="1350" y1="1559.5" x2="1359" y2="1559.5" stroke="#000000" stroke-width="1"/>
<line x1="1354.5" y1="1613.8" x2="1354.5" y2="1651.1" stroke="#000000" stroke-width="1"/>
<line x1="1350" y1="1651.5" x2="1359" y2="1651.5" stroke="#000000" stroke-width="1"/>
<line x1="1429.5" y1="1545.2" x2="1429.5" y2="1598.3" stroke="#000000" stroke-width="1"/>
<line x1="1425" y1="1545.5" x2="1434" y2="1545.5" stroke="#000000" stroke-width="1"/>
<line x1="1429.5" y1="1618.9" x2="1429.5" y2="1677" stroke="#000000" stroke-width="1"/>
<line x1="1425" y1="1677.5" x2="1434" y2="1677.5" stroke="#000000" stroke-width="1"/>
<line x1="1556.5" y1="1468.2" x2="1556.5" y2="1525.6" stroke="#000000" stroke-width="1"/>
<line x1="1552" y1="1468.5" x2="1561" y2="1468.5" stroke="#000000" stroke-width="1"/>
<line x1="1556.5" y1="1546.2" x2="1556.5" y2="1604.4" stroke="#000000" stroke-width="1"/>
<line x1="1552" y1="1604.5" x2="1561" y2="1604.5" stroke="#000000" stroke-width="1"/>
<line x1="1224" y1="1616.5" x2="1233" y2="1616.5" stroke="#000000" stroke-width="1"/>
<line x1="1076.74" y1="1354.8" x2="1076.74" y2="1791.8" stroke="#000" stroke-width="2.2"/>
<line x1="1069.44" y1="1790.7" x2="1607.1" y2="1790.7" stroke="#000" stroke-width="2.2"/>
<line x1="1069.44" y1="1790.7" x2="1076.74" y2="1790.7" stroke="#000" stroke-width="2.2"/>
<text transform="translate(1064.14 1806.5) scale(1.0 1.04)" font-size="55" text-anchor="end" stroke="#000">0</text>
<line x1="1072.94" y1="1747.14" x2="1076.74" y2="1747.14" stroke="#000" stroke-width="2.2"/>
<line x1="1069.44" y1="1703.58" x2="1076.74" y2="1703.58" stroke="#000" stroke-width="2.2"/>
<text transform="translate(1064.14 1719.38) scale(1.0 1.04)" font-size="55" text-anchor="end" stroke="#000">10</text>
<rect x="1006.26" y="1714.16" width="10.2" height="6.72" fill="#fff"/>
<rect x="1021.92" y="1714.16" width="9.76" height="6.72" fill="#fff"/>
<line x1="1072.94" y1="1660.02" x2="1076.74" y2="1660.02" stroke="#000" stroke-width="2.2"/>
<line x1="1069.44" y1="1616.46" x2="1076.74" y2="1616.46" stroke="#000" stroke-width="2.2"/>
<text transform="translate(1064.14 1632.26) scale(1.0 1.04)" font-size="55" text-anchor="end" stroke="#000">20</text>
<line x1="1072.94" y1="1572.9" x2="1076.74" y2="1572.9" stroke="#000" stroke-width="2.2"/>
<line x1="1069.44" y1="1529.34" x2="1076.74" y2="1529.34" stroke="#000" stroke-width="2.2"/>
<text transform="translate(1064.14 1545.14) scale(1.0 1.04)" font-size="55" text-anchor="end" stroke="#000">30</text>
<line x1="1072.94" y1="1485.78" x2="1076.74" y2="1485.78" stroke="#000" stroke-width="2.2"/>
<line x1="1069.44" y1="1442.22" x2="1076.74" y2="1442.22" stroke="#000" stroke-width="2.2"/>
<text transform="translate(1064.14 1458.02) scale(1.0 1.04)" font-size="55" text-anchor="end" stroke="#000">40</text>
<line x1="1072.94" y1="1398.66" x2="1076.74" y2="1398.66" stroke="#000" stroke-width="2.2"/>
<line x1="1069.44" y1="1355.1" x2="1076.74" y2="1355.1" stroke="#000" stroke-width="2.2"/>
<text transform="translate(1064.14 1370.9) scale(1.0 1.04)" font-size="55" text-anchor="end" stroke="#000">50</text>
<line x1="1127.1" y1="1790.7" x2="1127.1" y2="1798" stroke="#000" stroke-width="2.2"/>
<text transform="translate(1127.1 1845.7) scale(1.0 1.04)" font-size="55" text-anchor="middle" stroke="#000">3</text>
<line x1="1202.79" y1="1790.7" x2="1202.79" y2="1798" stroke="#000" stroke-width="2.2"/>
<text transform="translate(1202.79 1845.7) scale(1.0 1.04)" font-size="55" text-anchor="middle" stroke="#000">6</text>
<line x1="1278.48" y1="1790.7" x2="1278.48" y2="1798" stroke="#000" stroke-width="2.2"/>
<text transform="translate(1278.48 1845.7) scale(1.0 1.04)" font-size="55" text-anchor="middle" stroke="#000">9</text>
<line x1="1354.17" y1="1790.7" x2="1354.17" y2="1798" stroke="#000" stroke-width="2.2"/>
<text transform="translate(1354.17 1845.7) scale(1.0 1.04)" font-size="55" text-anchor="middle" stroke="#000">12</text>
<rect x="1326.88" y="1840.48" width="10.2" height="6.72" fill="#fff"/>
<rect x="1342.53" y="1840.48" width="9.76" height="6.72" fill="#fff"/>
<line x1="1429.86" y1="1790.7" x2="1429.86" y2="1798" stroke="#000" stroke-width="2.2"/>
<text transform="translate(1429.86 1845.7) scale(1.0 1.04)" font-size="55" text-anchor="middle" stroke="#000">15</text>
<rect x="1402.57" y="1840.48" width="10.2" height="6.72" fill="#fff"/>
<rect x="1418.22" y="1840.48" width="9.76" height="6.72" fill="#fff"/>
<line x1="1505.55" y1="1790.7" x2="1505.55" y2="1798" stroke="#000" stroke-width="2.2"/>
<text transform="translate(1505.55 1845.7) scale(1.0 1.04)" font-size="55" text-anchor="middle" stroke="#000">18</text>
<rect x="1478.26" y="1840.48" width="10.2" height="6.72" fill="#fff"/>
<rect x="1493.91" y="1840.48" width="9.76" height="6.72" fill="#fff"/>
<line x1="1581.24" y1="1790.7" x2="1581.24" y2="1798" stroke="#000" stroke-width="2.2"/>
<text transform="translate(1581.24 1845.7) scale(1.0 1.04)" font-size="55" text-anchor="middle" stroke="#000">21</text>
<rect x="1584.54" y="1840.48" width="10.2" height="6.72" fill="#fff"/>
<rect x="1600.19" y="1840.48" width="9.76" height="6.72" fill="#fff"/>
<line x1="1089.25" y1="1790.7" x2="1089.25" y2="1794.5" stroke="#000" stroke-width="2.2"/>
<line x1="1164.94" y1="1790.7" x2="1164.94" y2="1794.5" stroke="#000" stroke-width="2.2"/>
<line x1="1240.63" y1="1790.7" x2="1240.63" y2="1794.5" stroke="#000" stroke-width="2.2"/>
<line x1="1316.32" y1="1790.7" x2="1316.32" y2="1794.5" stroke="#000" stroke-width="2.2"/>
<line x1="1392.01" y1="1790.7" x2="1392.01" y2="1794.5" stroke="#000" stroke-width="2.2"/>
<line x1="1467.7" y1="1790.7" x2="1467.7" y2="1794.5" stroke="#000" stroke-width="2.2"/>
<line x1="1543.39" y1="1790.7" x2="1543.39" y2="1794.5" stroke="#000" stroke-width="2.2"/>
<text transform="translate(1101.9 1388) scale(0.944 1.03)" font-size="56" font-weight="bold" stroke="#000">H</text>
<text x="1604.9" y="1519.8" font-size="55" stroke="#000">a</text>
<text x="1604.9" y="1555" font-size="55" fill="#0000ff" stroke="#0000ff">a</text>
<text x="1604.9" y="1622.4" font-size="55" fill="#008000" stroke="#008000">a</text>
<text x="1604.9" y="1736.3" font-size="55" fill="#ff0000" stroke="#ff0000">a</text>
</g>
<g id="panel-I">
<line x1="1960.12" y1="1482.46" x2="2033.2" y2="1490.14" stroke="#222222" stroke-width="1"/>
<line x1="2059.84" y1="1497.44" x2="2160.55" y2="1543.66" stroke="#222222" stroke-width="1"/>
<line x1="2187.14" y1="1547.59" x2="2235.09" y2="1541.01" stroke="#222222" stroke-width="1"/>
<line x1="2261.77" y1="1544.75" x2="2362.3" y2="1589.15" stroke="#222222" stroke-width="1"/>
<circle cx="1946.2" cy="1481" r="10.3" fill="#000000"/>
<circle cx="2047.12" cy="1491.6" r="10.3" fill="#000000"/>
<circle cx="2173.27" cy="1549.5" r="10.3" fill="#000000"/>
<circle cx="2248.96" cy="1539.1" r="10.3" fill="#000000"/>
<circle cx="2375.11" cy="1594.8" r="10.3" fill="#000000"/>
<line x1="1959.68" y1="1581.27" x2="2033.64" y2="1601.93" stroke="#ff0000" stroke-width="1"/>
<line x1="2061.11" y1="1606.29" x2="2159.28" y2="1610.41" stroke="#ff0000" stroke-width="1"/>
<line x1="2184.93" y1="1618.75" x2="2237.3" y2="1653.55" stroke="#ff0000" stroke-width="1"/>
<line x1="2262.53" y1="1664.74" x2="2361.54" y2="1689.86" stroke="#ff0000" stroke-width="1"/>
<circle cx="1946.2" cy="1577.5" r="10.3" fill="#ff0000"/>
<circle cx="2047.12" cy="1605.7" r="10.3" fill="#ff0000"/>
<circle cx="2173.27" cy="1611" r="10.3" fill="#ff0000"/>
<circle cx="2248.96" cy="1661.3" r="10.3" fill="#ff0000"/>
<circle cx="2375.11" cy="1693.3" r="10.3" fill="#ff0000"/>
<line x1="1958.32" y1="1589.2" x2="2035" y2="1633.5" stroke="#008000" stroke-width="1"/>
<line x1="2060.32" y1="1635.83" x2="2160.07" y2="1600.57" stroke="#008000" stroke-width="1"/>
<line x1="2185.72" y1="1602.31" x2="2236.51" y2="1628.49" stroke="#008000" stroke-width="1"/>
<line x1="2262.36" y1="1630.83" x2="2361.71" y2="1600.67" stroke="#008000" stroke-width="1"/>
<circle cx="1946.2" cy="1582.2" r="10.3" fill="#008000"/>
<circle cx="2047.12" cy="1640.5" r="10.3" fill="#008000"/>
<circle cx="2173.27" cy="1595.9" r="10.3" fill="#008000"/>
<circle cx="2248.96" cy="1634.9" r="10.3" fill="#008000"/>
<circle cx="2375.11" cy="1596.6" r="10.3" fill="#008000"/>
<line x1="1958.52" y1="1536.34" x2="2034.8" y2="1577.46" stroke="#0000ff" stroke-width="1"/>
<line x1="2060.68" y1="1580.62" x2="2159.71" y2="1555.18" stroke="#0000ff" stroke-width="1"/>
<line x1="2186.55" y1="1556.14" x2="2235.68" y2="1572.56" stroke="#0000ff" stroke-width="1"/>
<line x1="2262.96" y1="1576.78" x2="2361.11" y2="1575.22" stroke="#0000ff" stroke-width="1"/>
<circle cx="1946.2" cy="1529.7" r="10.3" fill="#0000ff"/>
<circle cx="2047.12" cy="1584.1" r="10.3" fill="#0000ff"/>
<circle cx="2173.27" cy="1551.7" r="10.3" fill="#0000ff"/>
<circle cx="2248.96" cy="1577" r="10.3" fill="#0000ff"/>
<circle cx="2375.11" cy="1575" r="10.3" fill="#0000ff"/>
<line x1="1946.5" y1="1444" x2="1946.5" y2="1470.7" stroke="#000000" stroke-width="1"/>
<line x1="1942" y1="1444.5" x2="1951" y2="1444.5" stroke="#000000" stroke-width="1"/>
<line x1="1946.5" y1="1491.3" x2="1946.5" y2="1518" stroke="#000000" stroke-width="1"/>
<line x1="1942" y1="1518.5" x2="1951" y2="1518.5" stroke="#000000" stroke-width="1"/>
<line x1="2173.5" y1="1504.4" x2="2173.5" y2="1539.2" stroke="#000000" stroke-width="1"/>
<line x1="2169" y1="1504.5" x2="2178" y2="1504.5" stroke="#000000" stroke-width="1"/>
<line x1="2173.5" y1="1559.8" x2="2173.5" y2="1594.1" stroke="#000000" stroke-width="1"/>
<line x1="2169" y1="1594.5" x2="2178" y2="1594.5" stroke="#000000" stroke-width="1"/>
<line x1="2248.5" y1="1524.4" x2="2248.5" y2="1528.8" stroke="#000000" stroke-width="1"/>
<line x1="2244" y1="1524.5" x2="2253" y2="1524.5" stroke="#000000" stroke-width="1"/>
<line x1="2248.5" y1="1549.4" x2="2248.5" y2="1553.8" stroke="#000000" stroke-width="1"/>
<line x1="2244" y1="1553.5" x2="2253" y2="1553.5" stroke="#000000" stroke-width="1"/>
<line x1="2375.5" y1="1605.1" x2="2375.5" y2="1624.6" stroke="#000000" stroke-width="1"/>
<line x1="2371" y1="1624.5" x2="2380" y2="1624.5" stroke="#000000" stroke-width="1"/>
<line x1="1946.5" y1="1531" x2="1946.5" y2="1567.2" stroke="#000000" stroke-width="1"/>
<line x1="1942" y1="1531.5" x2="1951" y2="1531.5" stroke="#000000" stroke-width="1"/>
<line x1="1946.5" y1="1587.8" x2="1946.5" y2="1624.9" stroke="#000000" stroke-width="1"/>
<line x1="1942" y1="1624.5" x2="1951" y2="1624.5" stroke="#000000" stroke-width="1"/>
<line x1="2047.5" y1="1572.7" x2="2047.5" y2="1595.4" stroke="#000000" stroke-width="1"/>
<line x1="2043" y1="1572.5" x2="2052" y2="1572.5" stroke="#000000" stroke-width="1"/>
<line x1="2047.5" y1="1616" x2="2047.5" y2="1640.3" stroke="#000000" stroke-width="1"/>
<line x1="2043" y1="1640.5" x2="2052" y2="1640.5" stroke="#000000" stroke-width="1"/>
<line x1="2173.5" y1="1576.1" x2="2173.5" y2="1600.7" stroke="#000000" stroke-width="1"/>
<line x1="2169" y1="1576.5" x2="2178" y2="1576.5" stroke="#000000" stroke-width="1"/>
<line x1="2173.5" y1="1621.3" x2="2173.5" y2="1646.7" stroke="#000000" stroke-width="1"/>
<line x1="2169" y1="1646.5" x2="2178" y2="1646.5" stroke="#000000" stroke-width="1"/>
<line x1="2248.5" y1="1619.1" x2="2248.5" y2="1651" stroke="#000000" stroke-width="1"/>
<line x1="2244" y1="1619.5" x2="2253" y2="1619.5" stroke="#000000" stroke-width="1"/>
<line x1="2248.5" y1="1671.6" x2="2248.5" y2="1704.8" stroke="#000000" stroke-width="1"/>
<line x1="2244" y1="1704.5" x2="2253" y2="1704.5" stroke="#000000" stroke-width="1"/>
<line x1="2375.5" y1="1653.7" x2="2375.5" y2="1683" stroke="#000000" stroke-width="1"/>
<line x1="2371" y1="1653.5" x2="2380" y2="1653.5" stroke="#000000" stroke-width="1"/>
<line x1="2375.5" y1="1703.6" x2="2375.5" y2="1733.4" stroke="#000000" stroke-width="1"/>
<line x1="2371" y1="1733.5" x2="2380" y2="1733.5" stroke="#000000" stroke-width="1"/>
<line x1="1946.5" y1="1537.4" x2="1946.5" y2="1571.9" stroke="#000000" stroke-width="1"/>
<line x1="1942" y1="1537.5" x2="1951" y2="1537.5" stroke="#000000" stroke-width="1"/>
<line x1="1946.5" y1="1592.5" x2="1946.5" y2="1628.9" stroke="#000000" stroke-width="1"/>
<line x1="1942" y1="1628.5" x2="1951" y2="1628.5" stroke="#000000" stroke-width="1"/>
<line x1="2047.5" y1="1607.9" x2="2047.5" y2="1630.2" stroke="#000000" stroke-width="1"/>
<line x1="2043" y1="1607.5" x2="2052" y2="1607.5" stroke="#000000" stroke-width="1"/>
<line x1="2047.5" y1="1650.8" x2="2047.5" y2="1674.2" stroke="#000000" stroke-width="1"/>
<line x1="2043" y1="1674.5" x2="2052" y2="1674.5" stroke="#000000" stroke-width="1"/>
<line x1="2173.5" y1="1559.9" x2="2173.5" y2="1585.6" stroke="#000000" stroke-width="1"/>
<line x1="2169" y1="1559.5" x2="2178" y2="1559.5" stroke="#000000" stroke-width="1"/>
<line x1="2173.5" y1="1606.2" x2="2173.5" y2="1632" stroke="#000000" stroke-width="1"/>
<line x1="2169" y1="1632.5" x2="2178" y2="1632.5" stroke="#000000" stroke-width="1"/>
<line x1="2248.5" y1="1599.3" x2="2248.5" y2="1624.6" stroke="#000000" stroke-width="1"/>
<line x1="2244" y1="1599.5" x2="2253" y2="1599.5" stroke="#000000" stroke-width="1"/>
<line x1="2248.5" y1="1645.2" x2="2248.5" y2="1670.5" stroke="#000000" stroke-width="1"/>
<line x1="2244" y1="1670.5" x2="2253" y2="1670.5" stroke="#000000" stroke-width="1"/>
<line x1="2375.5" y1="1549.3" x2="2375.5" y2="1586.3" stroke="#000000" stroke-width="1"/>
<line x1="2371" y1="1549.5" x2="2380" y2="1549.5" stroke="#000000" stroke-width="1"/>
<line x1="2375.5" y1="1606.9" x2="2375.5" y2="1646.6" stroke="#000000" stroke-width="1"/>
<line x1="2371" y1="1646.5" x2="2380" y2="1646.5" stroke="#000000" stroke-width="1"/>
<line x1="1946.5" y1="1479" x2="1946.5" y2="1519.4" stroke="#000000" stroke-width="1"/>
<line x1="1942" y1="1479.5" x2="1951" y2="1479.5" stroke="#000000" stroke-width="1"/>
<line x1="1946.5" y1="1540" x2="1946.5" y2="1580.4" stroke="#000000" stroke-width="1"/>
<line x1="1942" y1="1580.5" x2="1951" y2="1580.5" stroke="#000000" stroke-width="1"/>
<line x1="2047.5" y1="1559" x2="2047.5" y2="1573.8" stroke="#000000" stroke-width="1"/>
<line x1="2043" y1="1559.5" x2="2052" y2="1559.5" stroke="#000000" stroke-width="1"/>
<line x1="2047.5" y1="1594.4" x2="2047.5" y2="1610.6" stroke="#000000" stroke-width="1"/>
<line x1="2043" y1="1610.5" x2="2052" y2="1610.5" stroke="#000000" stroke-width="1"/>
<line x1="2173.5" y1="1507.1" x2="2173.5" y2="1541.4" stroke="#000000" stroke-width="1"/>
<line x1="2169" y1="1507.5" x2="2178" y2="1507.5" stroke="#000000" stroke-width="1"/>
<line x1="2173.5" y1="1562" x2="2173.5" y2="1597.4" stroke="#000000" stroke-width="1"/>
<line x1="2169" y1="1597.5" x2="2178" y2="1597.5" stroke="#000000" stroke-width="1"/>
<line x1="2248.5" y1="1553.8" x2="2248.5" y2="1566.7" stroke="#000000" stroke-width="1"/>
<line x1="2244" y1="1553.5" x2="2253" y2="1553.5" stroke="#000000" stroke-width="1"/>
<line x1="2248.5" y1="1587.3" x2="2248.5" y2="1599.2" stroke="#000000" stroke-width="1"/>
<line x1="2244" y1="1599.5" x2="2253" y2="1599.5" stroke="#000000" stroke-width="1"/>
<line x1="2375.5" y1="1549.3" x2="2375.5" y2="1564.7" stroke="#000000" stroke-width="1"/>
<line x1="2371" y1="1549.5" x2="2380" y2="1549.5" stroke="#000000" stroke-width="1"/>
<line x1="2375.5" y1="1585.3" x2="2375.5" y2="1601.2" stroke="#000000" stroke-width="1"/>
<line x1="2371" y1="1601.5" x2="2380" y2="1601.5" stroke="#000000" stroke-width="1"/>
<line x1="2244" y1="1611.5" x2="2253" y2="1611.5" stroke="#000000" stroke-width="1"/>
<line x1="1895.54" y1="1354.8" x2="1895.54" y2="1791.8" stroke="#000" stroke-width="2.2"/>
<line x1="1888.24" y1="1790.7" x2="2426" y2="1790.7" stroke="#000" stroke-width="2.2"/>
<line x1="1888.24" y1="1790.7" x2="1895.54" y2="1790.7" stroke="#000" stroke-width="2.2"/>
<text transform="translate(1882.94 1806.5) scale(1.0 1.04)" font-size="55" text-anchor="end" stroke="#000">0</text>
<line x1="1891.74" y1="1747.14" x2="1895.54" y2="1747.14" stroke="#000" stroke-width="2.2"/>
<line x1="1888.24" y1="1703.58" x2="1895.54" y2="1703.58" stroke="#000" stroke-width="2.2"/>
<text transform="translate(1882.94 1719.38) scale(1.0 1.04)" font-size="55" text-anchor="end" stroke="#000">10</text>
<rect x="1825.06" y="1714.16" width="10.2" height="6.72" fill="#fff"/>
<rect x="1840.72" y="1714.16" width="9.76" height="6.72" fill="#fff"/>
<line x1="1891.74" y1="1660.02" x2="1895.54" y2="1660.02" stroke="#000" stroke-width="2.2"/>
<line x1="1888.24" y1="1616.46" x2="1895.54" y2="1616.46" stroke="#000" stroke-width="2.2"/>
<text transform="translate(1882.94 1632.26) scale(1.0 1.04)" font-size="55" text-anchor="end" stroke="#000">20</text>
<line x1="1891.74" y1="1572.9" x2="1895.54" y2="1572.9" stroke="#000" stroke-width="2.2"/>
<line x1="1888.24" y1="1529.34" x2="1895.54" y2="1529.34" stroke="#000" stroke-width="2.2"/>
<text transform="translate(1882.94 1545.14) scale(1.0 1.04)" font-size="55" text-anchor="end" stroke="#000">30</text>
<line x1="1891.74" y1="1485.78" x2="1895.54" y2="1485.78" stroke="#000" stroke-width="2.2"/>
<line x1="1888.24" y1="1442.22" x2="1895.54" y2="1442.22" stroke="#000" stroke-width="2.2"/>
<text transform="translate(1882.94 1458.02) scale(1.0 1.04)" font-size="55" text-anchor="end" stroke="#000">40</text>
<line x1="1891.74" y1="1398.66" x2="1895.54" y2="1398.66" stroke="#000" stroke-width="2.2"/>
<line x1="1888.24" y1="1355.1" x2="1895.54" y2="1355.1" stroke="#000" stroke-width="2.2"/>
<text transform="translate(1882.94 1370.9) scale(1.0 1.04)" font-size="55" text-anchor="end" stroke="#000">50</text>
<line x1="1946.2" y1="1790.7" x2="1946.2" y2="1798" stroke="#000" stroke-width="2.2"/>
<text transform="translate(1946.2 1845.7) scale(1.0 1.04)" font-size="55" text-anchor="middle" stroke="#000">3</text>
<line x1="2021.89" y1="1790.7" x2="2021.89" y2="1798" stroke="#000" stroke-width="2.2"/>
<text transform="translate(2021.89 1845.7) scale(1.0 1.04)" font-size="55" text-anchor="middle" stroke="#000">6</text>
<line x1="2097.58" y1="1790.7" x2="2097.58" y2="1798" stroke="#000" stroke-width="2.2"/>
<text transform="translate(2097.58 1845.7) scale(1.0 1.04)" font-size="55" text-anchor="middle" stroke="#000">9</text>
<line x1="2173.27" y1="1790.7" x2="2173.27" y2="1798" stroke="#000" stroke-width="2.2"/>
<text transform="translate(2173.27 1845.7) scale(1.0 1.04)" font-size="55" text-anchor="middle" stroke="#000">12</text>
<rect x="2145.98" y="1840.48" width="10.2" height="6.72" fill="#fff"/>
<rect x="2161.63" y="1840.48" width="9.76" height="6.72" fill="#fff"/>
<line x1="2248.96" y1="1790.7" x2="2248.96" y2="1798" stroke="#000" stroke-width="2.2"/>
<text transform="translate(2248.96 1845.7) scale(1.0 1.04)" font-size="55" text-anchor="middle" stroke="#000">15</text>
<rect x="2221.67" y="1840.48" width="10.2" height="6.72" fill="#fff"/>
<rect x="2237.32" y="1840.48" width="9.76" height="6.72" fill="#fff"/>
<line x1="2324.65" y1="1790.7" x2="2324.65" y2="1798" stroke="#000" stroke-width="2.2"/>
<text transform="translate(2324.65 1845.7) scale(1.0 1.04)" font-size="55" text-anchor="middle" stroke="#000">18</text>
<rect x="2297.36" y="1840.48" width="10.2" height="6.72" fill="#fff"/>
<rect x="2313.01" y="1840.48" width="9.76" height="6.72" fill="#fff"/>
<line x1="2400.34" y1="1790.7" x2="2400.34" y2="1798" stroke="#000" stroke-width="2.2"/>
<text transform="translate(2400.34 1845.7) scale(1.0 1.04)" font-size="55" text-anchor="middle" stroke="#000">21</text>
<rect x="2403.64" y="1840.48" width="10.2" height="6.72" fill="#fff"/>
<rect x="2419.29" y="1840.48" width="9.76" height="6.72" fill="#fff"/>
<line x1="1908.36" y1="1790.7" x2="1908.36" y2="1794.5" stroke="#000" stroke-width="2.2"/>
<line x1="1984.05" y1="1790.7" x2="1984.05" y2="1794.5" stroke="#000" stroke-width="2.2"/>
<line x1="2059.74" y1="1790.7" x2="2059.74" y2="1794.5" stroke="#000" stroke-width="2.2"/>
<line x1="2135.43" y1="1790.7" x2="2135.43" y2="1794.5" stroke="#000" stroke-width="2.2"/>
<line x1="2211.12" y1="1790.7" x2="2211.12" y2="1794.5" stroke="#000" stroke-width="2.2"/>
<line x1="2286.81" y1="1790.7" x2="2286.81" y2="1794.5" stroke="#000" stroke-width="2.2"/>
<line x1="2362.49" y1="1790.7" x2="2362.49" y2="1794.5" stroke="#000" stroke-width="2.2"/>
<text transform="translate(1915 1388) scale(0.944 1.03)" font-size="56" font-weight="bold" stroke="#000">I</text>
<text x="2419.6" y="1565.8" font-size="55" fill="#0000ff" stroke="#0000ff">a</text>
<text x="2419.6" y="1611.6" font-size="55" stroke="#000">a</text>
<text x="2419.6" y="1667.1" font-size="55" fill="#008000" stroke="#008000">a</text>
<text x="2419.6" y="1734.3" font-size="55" fill="#ff0000" stroke="#ff0000">a</text>
</g>
</svg>
</body></html>
